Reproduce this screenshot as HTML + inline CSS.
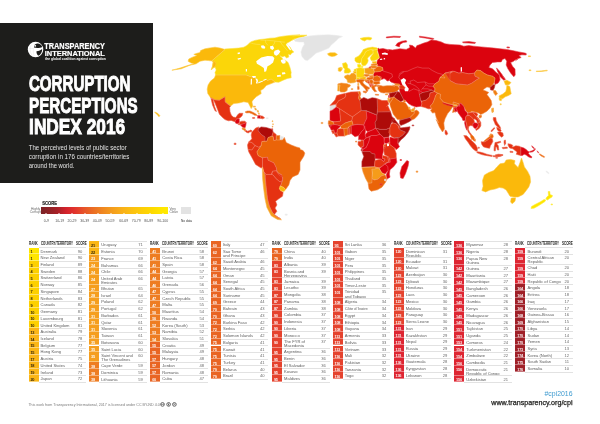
<!DOCTYPE html>
<html><head><meta charset="utf-8"><title>Corruption Perceptions Index 2016</title>
<style>
html,body{margin:0;padding:0;background:#fff;}
body{width:600px;height:424px;position:relative;overflow:hidden;font-family:"Liberation Sans",sans-serif;}
.abs{position:absolute;}
#pg{position:absolute;left:0;top:0;width:600px;height:424px;will-change:transform;}
#hdr{position:absolute;left:0;top:22.6px;width:152.8px;height:160.2px;background:#1d1d1b;}
svg{position:absolute;left:0;top:0;overflow:visible;}
.rw{position:absolute;width:57.6px;}
.rw:after{content:"";position:absolute;left:10.0px;right:0;bottom:-0.2px;height:0.4px;background:#e2e2e2;}
.rk{position:absolute;left:0;top:0;width:10.0px;height:100%;box-sizing:border-box;border-bottom:0.3px solid rgba(255,255,255,.4);color:rgba(255,255,255,.92);font-weight:bold;font-size:3.9px;line-height:6.7px;padding-top:1.65px;text-indent:1.9px;letter-spacing:-0.25px;}
.rk.dk{color:#33260f;}
.nm{position:absolute;left:12.1px;top:2.05px;font-size:4.1px;line-height:4.1px;color:#606060;white-space:nowrap;letter-spacing:-0.02px;}
.sc{position:absolute;left:46.2px;width:10.6px;text-align:center;top:2.05px;font-size:4.1px;line-height:4.1px;color:#6a6a6a;}
.ln{position:absolute;width:47.6px;height:0.4px;background:#e2e2e2;}
.th{position:absolute;height:5px;width:60px;font-weight:bold;font-size:4.6px;line-height:5px;color:#1d1d1b;white-space:nowrap;}
.th span{position:absolute;top:0;display:inline-block;transform-origin:left center;}
.thr{left:0;transform:scaleX(.66);}
.thc{left:12.1px;transform:scaleX(.64);}
.ths{left:47px;transform:scaleX(.66);}
.lg{position:absolute;font-size:3.3px;line-height:3.8px;color:#6a6a6a;white-space:nowrap;}
.lgl{position:absolute;top:218.7px;width:20px;margin-left:-10px;text-align:center;font-size:3.5px;line-height:4px;color:#555;white-space:nowrap;}
</style></head>
<body><div id="pg">
<svg width="600" height="424" viewBox="0 0 600 424">
<g stroke-linejoin="round">
<path d="M225.0,49.4 220.0,53.8 215.0,58.1 212.1,60.6 213.1,62.5 212.5,66.2 211.5,69.8 213.1,68.1 215.0,66.9 216.2,70.0 215.0,72.5 215.6,75.0 225.0,75.0 225.0,75.0 246.2,75.0 248.8,76.0 251.9,77.0 254.0,77.0 256.2,78.8 257.8,81.2 257.2,83.5 258.8,82.9 262.5,81.2 266.2,79.4 267.5,80.5 271.2,79.0 273.8,81.1 275.0,82.0 278.8,82.2 283.1,80.2 287.5,78.4 291.2,77.8 290.9,74.4 291.2,72.5 290.0,67.5 288.1,62.5 285.0,60.0 283.8,60.6 281.9,57.8 280.0,56.1 282.1,57.0 284.6,56.1 286.6,57.9 288.8,57.0 288.4,54.1 290.4,54.9 291.6,53.2 293.8,52.0 291.6,49.9 290.0,47.0 287.5,45.4 286.6,43.2 289.1,42.0 291.6,40.4 295.0,38.6 292.5,39.8 297.5,38.1 303.8,36.9 306.9,35.2 301.2,35.2 292.5,36.0 300.0,34.9 296.6,34.9 290.0,35.4 283.4,36.2 278.4,37.0 275.0,37.9 270.0,38.2 265.0,39.0 260.0,39.5 255.0,40.4 250.6,41.9 246.9,45.6 243.8,47.2 238.8,48.1 232.5,48.5 225.0,49.0Z" fill="#fbd609" stroke="#fbd609" stroke-width="0.5"/>
<path d="M256.2,61.2 261.2,57.5 267.5,56.0 272.5,56.2 274.4,58.1 273.1,62.5 270.0,65.0 267.5,66.2 266.2,71.2 264.4,71.9 263.8,68.1 260.0,65.6 256.9,63.8Z" fill="#ffffff"/>
<path d="M260.8,45.8 263.3,45.3 265.4,47.0 264.6,48.7 261.7,48.2Z" fill="#ffffff"/>
<path d="M270.0,46.2 272.9,45.8 274.2,48.2 272.5,49.9 270.4,48.7Z" fill="#ffffff"/>
<path d="M274.6,50.8 278.3,49.5 280.4,51.6 278.8,54.1 276.7,55.8 274.6,54.9 273.8,52.8Z" fill="#ffffff"/>
<path d="M280.8,59.9 283.3,59.3 285.8,60.8 285.4,63.2 282.9,63.7 281.2,62.0Z" fill="#ffffff"/>
<path d="M285.8,44.5 287.1,44.1 289.2,46.6 291.2,49.9 290.0,50.3 287.9,47.4Z" fill="#ffffff"/>
<path d="M237.5,52.8 239.8,52.2 240.0,53.8 237.8,54.2Z" fill="#ffffff"/>
<path d="M237.5,58.5 240.6,57.8 241.0,59.0 238.0,59.8Z" fill="#ffffff"/>
<path d="M245.8,69.0 247.0,69.0 247.0,71.5 245.8,71.5Z" fill="#ffffff"/>
<path d="M200.6,50.6 205.0,48.8 210.0,47.9 215.0,47.2 220.0,48.1 225.0,49.4 220.0,53.8 215.0,58.1 212.1,60.6 213.1,62.5 212.5,66.2 211.2,70.0 212.2,68.1 215.0,66.9 216.0,63.8 215.0,61.9 212.1,61.0 208.8,60.6 205.0,60.2 200.0,61.2 196.2,63.8 190.0,65.2 181.2,68.8 171.9,70.2 180.0,68.1 187.5,65.6 193.8,63.8 191.2,63.1 188.1,61.2 188.8,59.0 192.5,57.2 196.9,55.4 193.8,54.4 196.2,53.5 200.0,52.5Z" fill="#fbb90b" stroke="#fbb90b" stroke-width="0.5"/>
<path d="M225.0,75.0 246.2,75.0 248.8,76.0 251.9,77.0 254.0,77.0 256.2,78.8 257.8,81.2 257.2,83.5 258.8,82.9 262.5,81.2 266.2,79.4 267.5,80.5 271.2,79.0 273.8,81.1 275.0,82.0 271.2,83.6 266.2,85.5 263.8,88.6 260.6,90.5 261.2,93.6 256.2,96.8 253.1,99.9 251.9,101.8 252.8,106.1 251.2,108.6 249.4,104.9 248.1,102.4 243.8,101.8 238.8,103.0 233.8,103.6 230.6,106.1 228.8,104.9 225.0,101.8 225.0,96.8 219.4,100.2 215.0,99.9 210.6,97.8 210.0,96.8 207.8,93.6 207.2,89.2 208.1,84.9 210.6,81.1 214.4,78.0 215.6,75.0 225.0,75.0Z" fill="#fbb90b" stroke="#fbb90b" stroke-width="0.5"/>
<path d="M251.9,76.0 255.6,76.0 256.0,77.5 253.1,77.9Z" fill="#ffffff"/>
<path d="M250.9,78.8 252.0,78.8 251.8,84.4 250.6,84.4Z" fill="#ffffff"/>
<path d="M255.4,78.8 257.2,78.8 258.1,81.0 256.9,83.8 255.9,83.1 256.5,81.0Z" fill="#ffffff"/>
<path d="M258.1,82.2 262.5,80.8 262.9,81.5 258.8,83.1Z" fill="#ffffff"/>
<path d="M263.1,80.0 266.2,78.8 266.6,79.5 263.5,80.8Z" fill="#ffffff"/>
<path d="M276.9,75.2 280.6,74.8 281.0,76.6 277.2,77.1Z" fill="#ffffff"/>
<path d="M281.9,72.5 285.0,72.2 285.5,74.1 282.2,74.5Z" fill="#ffffff"/>
<path d="M154.8,112.0 157.5,113.2 159.8,115.5 159.0,116.8 156.9,114.2 154.8,112.5Z" fill="#fbb90b" stroke="#fbb90b" stroke-width="0.5"/>
<path d="M210.6,97.8 215.0,99.9 219.4,100.2 225.0,96.8 225.0,101.8 228.8,104.9 230.6,106.1 229.6,107.5 230.0,111.7 231.2,115.0 233.3,117.1 235.8,117.5 237.5,115.0 239.2,113.3 242.9,113.3 242.1,115.8 240.4,117.5 238.3,118.8 236.7,118.8 235.8,120.0 235.0,121.7 233.3,121.2 231.2,120.4 228.3,120.8 225.0,119.6 222.5,117.4 219.4,114.2 217.5,109.2 215.0,103.0 213.1,99.2Z" fill="#e53212" stroke="#e53212" stroke-width="0.5"/>
<path d="M211.0,98.4 213.1,99.2 213.4,101.8 214.6,106.8 216.5,111.5 215.0,110.8 212.5,104.9Z" fill="#e53212" stroke="#e53212" stroke-width="0.5"/>
<path d="M235.0,121.7 235.8,120.0 236.7,118.8 238.3,118.8 239.3,119.0 239.3,121.2 239.6,122.1 237.9,123.8 235.8,123.3Z" fill="#db030e" stroke="#db030e" stroke-width="0.5"/>
<path d="M239.6,122.1 241.7,121.2 245.0,121.2 246.2,122.5 244.6,123.3 242.1,124.2 240.4,124.6 239.6,123.5Z" fill="#e53212" stroke="#e53212" stroke-width="0.5"/>
<path d="M237.9,123.8 239.6,123.5 240.4,124.6 238.8,124.8Z" fill="#e53212" stroke="#e53212" stroke-width="0.5"/>
<path d="M240.4,124.8 242.1,124.2 244.6,123.3 246.2,122.7 245.8,125.4 245.0,127.9 242.9,127.5 241.2,125.8Z" fill="#db030e" stroke="#db030e" stroke-width="0.5"/>
<path d="M242.1,127.9 245.0,128.2 245.8,130.0 245.0,131.2 243.8,130.0 242.3,129.2Z" fill="#f07f12" stroke="#f07f12" stroke-width="0.5"/>
<path d="M245.8,130.0 247.1,131.2 249.2,130.8 250.8,130.0 252.1,130.8 251.2,132.1 250.0,131.7 248.3,132.9 246.8,132.5 245.4,131.5Z" fill="#e53212" stroke="#e53212" stroke-width="0.5"/>
<path d="M245.0,112.1 247.1,111.0 250.0,111.0 253.3,112.5 256.2,114.2 257.1,115.4 254.6,115.2 252.1,113.8 249.2,112.7 246.7,112.9Z" fill="#eb6408" stroke="#eb6408" stroke-width="0.5"/>
<path d="M253.3,106.2 255.4,106.2 255.4,107.1 253.3,107.1Z" fill="#f59c1a" stroke="#f59c1a" stroke-width="0.5"/>
<path d="M254.6,108.3 256.0,108.3 256.5,110.0 255.2,110.0Z" fill="#f59c1a" stroke="#f59c1a" stroke-width="0.5"/>
<path d="M257.1,110.4 258.2,110.4 258.7,112.1 257.5,112.1Z" fill="#f59c1a" stroke="#f59c1a" stroke-width="0.5"/>
<path d="M258.3,112.9 259.2,112.9 259.3,114.2 258.5,114.2Z" fill="#f59c1a" stroke="#f59c1a" stroke-width="0.5"/>
<path d="M252.5,117.5 254.6,117.5 254.8,118.3 252.7,118.5Z" fill="#e53212" stroke="#e53212" stroke-width="0.5"/>
<path d="M257.1,115.8 259.6,115.4 260.4,115.8 260.4,118.3 259.6,118.3 257.1,117.9 258.3,117.1Z" fill="#db030e" stroke="#db030e" stroke-width="0.5"/>
<path d="M260.4,115.8 262.9,116.2 264.6,117.9 262.5,118.8 260.4,118.3Z" fill="#e53212" stroke="#e53212" stroke-width="0.5"/>
<path d="M266.2,117.8 268.1,117.8 268.1,118.6 266.2,118.6Z" fill="#e4e4e4" stroke="#e4e4e4" stroke-width="0.5"/>
<path d="M271.7,128.8 272.8,128.8 272.8,129.7 271.7,129.7Z" fill="#e53212" stroke="#e53212" stroke-width="0.5"/>
<path d="M272.2,120.8 272.9,120.8 272.9,121.7 272.2,121.7Z" fill="#f59c1a" stroke="#f59c1a" stroke-width="0.5"/>
<path d="M272.7,123.8 273.3,123.8 273.3,124.7 272.7,124.7Z" fill="#f59c1a" stroke="#f59c1a" stroke-width="0.5"/>
<path d="M272.2,126.3 272.9,126.3 272.9,127.1 272.2,127.1Z" fill="#f07f12" stroke="#f07f12" stroke-width="0.5"/>
<path d="M294.4,40.0 298.8,38.1 307.5,36.2 317.5,35.2 328.8,34.8 337.5,35.6 342.5,36.5 338.8,38.1 335.6,41.2 331.2,45.0 328.8,48.1 321.2,51.2 316.2,53.1 311.2,57.5 307.5,60.6 305.0,60.0 301.9,56.2 301.0,51.9 302.5,47.5 304.4,44.4 303.8,41.9 298.8,41.9 295.0,41.2Z" fill="#e4e4e4" stroke="#e4e4e4" stroke-width="0.5"/>
<path d="M251.9,132.2 255.6,128.1 258.8,126.9 258.1,130.6 261.2,134.4 265.0,136.9 265.0,141.2 261.9,141.5 261.2,145.6 258.8,147.2 255.0,145.6 251.9,142.5 248.8,141.9 251.9,138.8 251.2,135.0Z" fill="#e53212" stroke="#e53212" stroke-width="0.5"/>
<path d="M258.1,128.8 261.2,126.9 266.2,127.5 272.5,129.4 273.1,132.5 271.9,136.2 268.1,137.5 266.9,141.2 265.0,141.2 265.0,136.9 261.2,134.4 258.1,130.6Z" fill="#ae0b09" stroke="#ae0b09" stroke-width="0.5"/>
<path d="M273.1,131.9 276.2,134.4 276.2,140.0 273.8,140.6 273.1,136.5 271.9,136.2Z" fill="#e53212" stroke="#e53212" stroke-width="0.5"/>
<path d="M276.2,135.6 280.0,135.6 280.0,140.0 276.2,140.0Z" fill="#eb6408" stroke="#eb6408" stroke-width="0.5"/>
<path d="M280.2,136.0 283.5,136.9 282.5,140.0 280.2,140.0Z" fill="#e4e4e4" stroke="#e4e4e4" stroke-width="0.5"/>
<path d="M248.8,141.9 251.9,142.5 255.0,145.6 251.9,150.0 248.1,149.4 247.5,145.0Z" fill="#e53212" stroke="#e53212" stroke-width="0.5"/>
<path d="M248.1,149.4 251.9,150.0 255.0,145.6 258.8,147.2 261.2,145.6 256.9,151.9 258.1,155.6 262.5,157.8 262.5,166.9 261.2,168.1 255.6,164.4 251.9,157.5 248.8,151.9Z" fill="#e53212" stroke="#e53212" stroke-width="0.5"/>
<path d="M266.9,141.2 268.1,137.5 271.9,136.2 273.1,136.5 273.8,140.6 276.2,140.0 280.0,140.0 282.5,140.0 284.4,137.5 286.2,142.5 291.2,145.0 296.2,146.9 300.0,148.1 300.0,149.4 303.1,150.6 304.8,153.1 303.8,156.2 300.6,161.2 300.0,162.5 300.0,170.0 298.1,174.4 292.5,176.9 290.0,180.6 288.8,185.0 285.6,189.4 283.8,187.5 280.6,186.0 282.5,180.6 282.8,177.5 278.8,175.0 276.2,171.2 281.9,175.0 278.1,173.1 276.9,170.6 276.2,167.5 273.8,162.8 268.1,160.2 267.5,157.1 262.5,157.8 258.1,155.6 256.9,151.9 261.2,145.6 261.9,141.5Z" fill="#eb6408" stroke="#eb6408" stroke-width="0.5"/>
<path d="M262.5,157.8 267.5,157.1 268.1,160.2 273.8,162.8 276.2,167.5 276.9,170.6 272.5,171.2 271.2,174.4 266.2,174.4 263.8,171.9 262.5,166.9Z" fill="#e53212" stroke="#e53212" stroke-width="0.5"/>
<path d="M272.5,171.2 276.9,170.6 278.1,173.1 281.9,175.0 282.5,177.5 282.5,180.6 280.0,181.9 276.2,178.8 273.1,175.0 271.9,174.4Z" fill="#e53212" stroke="#e53212" stroke-width="0.5"/>
<path d="M262.5,166.9 263.8,171.9 265.2,175.0 265.2,177.5 266.2,187.5 267.5,198.8 269.4,206.2 272.5,212.5 276.2,216.2 280.0,218.5 281.5,219.8 277.5,219.5 271.2,215.8 266.9,207.5 265.0,198.8 263.5,187.5 262.5,177.5 262.4,170.0Z" fill="#f59c1a" stroke="#f59c1a" stroke-width="0.5"/>
<path d="M266.2,174.4 271.2,174.4 271.9,174.4 273.1,175.0 276.2,178.8 280.0,181.9 282.5,180.6 280.6,185.6 279.4,188.8 283.1,192.5 282.5,196.2 278.8,198.8 275.6,201.2 276.9,205.0 275.0,208.1 276.9,211.2 274.4,214.4 277.5,216.9 280.6,218.8 276.2,216.5 272.5,212.5 269.4,206.2 267.5,198.8 266.2,187.5 265.2,177.5 265.2,175.0 263.8,171.9Z" fill="#e53212" stroke="#e53212" stroke-width="0.5"/>
<path d="M280.0,186.0 283.8,187.5 285.6,189.8 283.8,191.5 280.6,190.8 279.4,188.8Z" fill="#fbb90b" stroke="#fbb90b" stroke-width="0.5"/>
<path d="M285.2,214.2 287.2,214.2 287.2,215.2 285.2,215.2Z" fill="#e4e4e4" stroke="#e4e4e4" stroke-width="0.5"/>
<path d="M234.2,143.2 236.0,143.2 236.0,144.5 234.2,144.5Z" fill="#e53212" stroke="#e53212" stroke-width="0.5"/>
<path d="M378.0,48.0 379.5,49.0 383.0,48.5 389.0,50.0 387.5,51.2 388.8,49.4 392.5,50.0 395.6,49.4 400.0,48.8 406.2,49.4 410.0,47.5 409.4,45.0 412.5,45.6 415.6,48.1 416.9,45.6 418.8,45.0 423.8,43.1 427.5,41.9 431.2,40.0 436.2,40.6 441.2,41.9 445.0,43.8 450.0,44.4 455.0,44.8 460.0,45.0 463.8,46.2 468.8,45.6 473.8,46.2 481.2,46.9 487.5,47.5 493.8,48.1 500.0,48.8 506.2,49.4 512.5,50.6 518.8,51.9 525.0,53.1 526.2,53.5 526.2,55.0 521.9,54.8 518.8,55.6 521.2,57.5 517.5,58.8 515.6,60.6 518.1,58.8 515.0,60.0 513.1,61.5 510.6,62.5 512.5,66.2 515.0,69.0 515.2,75.0 513.8,76.8 510.8,73.2 507.9,68.8 506.2,65.0 506.8,61.2 505.0,58.5 502.5,59.4 501.2,61.9 497.5,61.9 492.5,62.5 490.0,65.0 488.8,67.5 492.5,68.8 496.2,72.5 499.4,75.0 500.0,80.0 498.1,83.1 495.0,84.4 494.4,81.9 495.0,78.1 492.5,76.2 487.5,75.0 483.8,73.1 480.6,70.6 476.9,70.0 474.4,73.1 468.8,73.8 462.5,72.5 458.8,73.1 453.8,71.2 450.0,73.1 452.5,71.2 445.0,73.1 440.0,77.5 438.8,81.2 435.0,83.8 433.1,86.2 435.0,88.8 434.4,91.5 431.9,90.0 427.5,91.5 422.5,92.5 419.4,94.4 420.6,100.0 421.9,103.8 421.2,106.2 416.2,106.9 411.9,105.6 408.8,103.8 405.0,100.0 403.8,100.0 401.9,96.2 400.0,92.5 399.4,88.8 400.0,85.6 394.4,83.5 395.0,83.5 391.0,82.0 389.5,80.5 387.0,81.0 386.0,79.5 384.0,78.5 381.5,79.5 379.5,76.0 377.0,76.0 373.5,77.0 373.5,74.5 374.5,72.0 380.0,71.5 383.0,70.0 382.5,67.5 379.0,66.2 377.5,65.5 376.5,63.5 377.0,62.0 377.5,60.0 379.5,58.0 379.0,55.0 378.0,51.5 377.0,49.5Z" fill="#db030e" stroke="#db030e" stroke-width="0.5"/>
<path d="M496.5,67.9 499.2,70.8 502.0,74.4 504.0,78.0 503.0,76.2 505.5,79.4 503.8,80.2 500.4,77.1 498.0,73.1 499.5,74.8 497.5,71.5Z" fill="#db030e" stroke="#db030e" stroke-width="0.5"/>
<path d="M395.6,45.6 397.5,43.1 401.9,41.2 406.2,40.6 406.9,41.9 403.1,42.5 400.0,44.4 399.4,46.9Z" fill="#db030e" stroke="#db030e" stroke-width="0.5"/>
<path d="M386.2,37.0 393.8,36.2 400.6,36.5 400.0,37.5 393.8,37.2 386.5,37.9Z" fill="#db030e" stroke="#db030e" stroke-width="0.5"/>
<path d="M419.4,36.2 425.0,36.9 433.8,38.5 433.1,39.5 425.0,38.0 419.5,37.2Z" fill="#db030e" stroke="#db030e" stroke-width="0.5"/>
<path d="M462.5,41.9 468.8,41.5 475.6,42.5 475.0,43.5 468.8,43.1 463.1,42.8Z" fill="#db030e" stroke="#db030e" stroke-width="0.5"/>
<path d="M506.9,46.9 509.4,47.0 509.4,47.9 506.9,47.8Z" fill="#db030e" stroke="#db030e" stroke-width="0.5"/>
<path d="M381.8,53.2 385.0,52.6 388.0,53.6 387.5,55.0 384.5,54.6 382.0,54.4Z" fill="#ffffff"/>
<path d="M379.8,59.0 382.0,58.6 382.4,59.7 380.2,60.1Z" fill="#ffffff"/>
<path d="M383.6,58.2 385.0,58.0 385.2,59.2 383.8,59.4Z" fill="#ffffff"/>
<path d="M400.6,80.0 403.8,78.1 406.2,80.0 405.0,83.1 406.9,86.2 408.8,88.8 408.1,91.2 405.0,91.2 403.8,87.5 401.9,83.8Z" fill="#ffffff"/>
<path d="M460.6,67.5 461.9,66.9 462.0,71.2 460.8,71.9Z" fill="#ffffff"/>
<path d="M398.8,85.6 403.1,85.6 405.0,87.5 404.4,89.0 400.6,88.8Z" fill="#e53212" stroke="#e53212" stroke-width="0.5"/>
<path d="M379.5,76.0 381.5,77.0 381.5,79.5 380.0,78.0Z" fill="#e53212" stroke="#e53212" stroke-width="0.5"/>
<path d="M327.5,53.8 330.0,52.8 335.0,52.8 337.5,54.4 335.0,56.0 331.9,56.5 328.8,55.6Z" fill="#fbb90b" stroke="#fbb90b" stroke-width="0.5"/>
<path d="M360.0,38.5 364.0,37.5 369.0,37.2 372.0,38.0 370.5,40.0 367.0,39.5 364.5,41.0 362.0,40.0Z" fill="#fbd609" stroke="#fbd609" stroke-width="0.5"/>
<path d="M355.0,57.9 358.3,56.2 360.4,54.2 362.1,51.7 363.3,49.6 367.5,47.9 372.5,47.1 377.1,47.9 377.5,49.2 374.2,50.0 370.8,49.6 367.9,50.4 365.4,52.1 364.6,54.6 362.9,56.7 361.7,58.8 361.2,62.1 359.6,63.3 356.7,62.5 355.0,60.8Z" fill="#fbd609" stroke="#fbd609" stroke-width="0.5"/>
<path d="M365.4,52.1 367.9,50.4 370.8,49.6 372.9,50.4 373.2,53.3 371.0,54.8 369.0,56.5 367.5,58.2 368.2,60.8 367.3,63.3 365.2,65.4 362.9,65.8 361.7,64.2 361.2,62.1 361.7,58.8 362.9,56.7 364.6,54.6Z" fill="#fbd609" stroke="#fbd609" stroke-width="0.5"/>
<path d="M372.9,50.4 374.2,50.0 377.5,49.2 377.1,51.7 378.3,54.6 379.2,57.5 377.1,59.6 373.8,60.8 371.2,60.4 370.2,57.9 371.5,55.8 373.2,53.8Z" fill="#fbd609" stroke="#fbd609" stroke-width="0.5"/>
<path d="M357.5,64.6 360.0,64.2 361.2,65.8 360.0,67.9 357.9,67.1Z" fill="#ffe600" stroke="#ffe600" stroke-width="0.5"/>
<path d="M361.3,66.2 362.7,66.0 362.7,67.5 361.5,67.7Z" fill="#ffe600" stroke="#ffe600" stroke-width="0.5"/>
<path d="M372.1,61.8 376.2,61.5 376.7,63.2 372.9,63.5Z" fill="#fbb90b" stroke="#fbb90b" stroke-width="0.5"/>
<path d="M371.2,64.2 376.7,63.5 377.9,65.0 374.6,65.7 371.7,65.7Z" fill="#f07f12" stroke="#f07f12" stroke-width="0.5"/>
<path d="M370.4,66.0 374.6,65.7 377.1,66.5 375.8,68.3 372.5,68.2 370.7,67.3Z" fill="#f07f12" stroke="#f07f12" stroke-width="0.5"/>
<path d="M375.5,67.5 379.0,66.2 382.5,67.5 383.0,70.0 380.0,71.5 374.5,72.0 373.5,69.2 375.5,69.0Z" fill="#eb6408" stroke="#eb6408" stroke-width="0.5"/>
<path d="M364.6,68.5 370.0,67.7 373.3,68.9 374.2,71.8 373.3,74.2 368.8,74.2 365.0,73.1Z" fill="#f59c1a" stroke="#f59c1a" stroke-width="0.5"/>
<path d="M369.0,67.0 370.8,67.0 370.8,67.8 369.2,67.8Z" fill="#db030e" stroke="#db030e" stroke-width="0.5"/>
<path d="M342.5,63.5 346.0,62.5 347.5,65.0 347.5,67.7 350.0,69.3 350.8,71.8 348.8,73.1 344.6,73.1 344.2,71.0 345.0,68.9 343.3,67.7Z" fill="#fbd609" stroke="#fbd609" stroke-width="0.5"/>
<path d="M340.5,68.0 342.2,67.6 342.4,69.0 340.8,69.2Z" fill="#fbd609" stroke="#fbd609" stroke-width="0.5"/>
<path d="M338.3,68.1 341.2,67.2 342.1,69.8 340.4,71.4 338.3,71.0Z" fill="#fbb90b" stroke="#fbb90b" stroke-width="0.5"/>
<path d="M344.6,76.0 347.5,74.8 350.0,75.2 351.2,73.5 353.8,73.1 356.2,75.2 356.5,78.5 355.4,79.8 356.2,81.8 353.8,82.7 350.4,83.1 347.5,82.2 347.1,79.8 344.6,77.7Z" fill="#f59c1a" stroke="#f59c1a" stroke-width="0.5"/>
<path d="M357.7,83.5 358.8,83.3 358.8,85.6 357.8,85.6Z" fill="#f59c1a" stroke="#f59c1a" stroke-width="0.5"/>
<path d="M354.0,69.5 356.5,68.8 356.5,71.2 354.3,71.5Z" fill="#fbd609" stroke="#fbd609" stroke-width="0.5"/>
<path d="M353.3,71.5 356.5,71.2 356.5,73.2 354.2,73.5Z" fill="#fbb90b" stroke="#fbb90b" stroke-width="0.5"/>
<path d="M356.5,68.5 360.0,67.7 363.8,68.5 364.6,71.8 363.8,73.9 364.6,76.0 362.9,77.7 359.6,77.7 356.5,76.8 356.5,72.7Z" fill="#fbd609" stroke="#fbd609" stroke-width="0.5"/>
<path d="M356.3,77.2 359.6,77.7 359.6,79.2 356.8,79.5Z" fill="#fbd609" stroke="#fbd609" stroke-width="0.5"/>
<path d="M359.8,77.7 363.8,76.7 366.2,77.5 365.0,79.2 360.4,79.3Z" fill="#fbb90b" stroke="#fbb90b" stroke-width="0.5"/>
<path d="M364.2,74.3 368.8,74.2 369.6,75.6 366.7,76.7 363.8,75.8Z" fill="#f07f12" stroke="#f07f12" stroke-width="0.5"/>
<path d="M369.2,75.8 373.3,75.2 373.5,76.7 370.0,77.2Z" fill="#f07f12" stroke="#f07f12" stroke-width="0.5"/>
<path d="M367.1,77.7 370.0,77.2 373.5,76.8 372.9,78.9 369.2,80.0 366.7,79.2Z" fill="#eb6408" stroke="#eb6408" stroke-width="0.5"/>
<path d="M364.2,79.3 366.7,79.2 366.8,80.3 364.3,80.5Z" fill="#f59c1a" stroke="#f59c1a" stroke-width="0.5"/>
<path d="M364.6,80.3 369.2,80.0 369.3,81.2 367.1,81.2 368.3,83.1 367.1,82.7 365.4,81.4Z" fill="#eb6408" stroke="#eb6408" stroke-width="0.5"/>
<path d="M367.1,81.2 369.3,81.2 369.8,83.1 368.8,83.5 368.3,83.3Z" fill="#e53212" stroke="#e53212" stroke-width="0.5"/>
<path d="M369.3,80.2 372.1,79.8 373.2,81.8 372.3,83.9 370.4,83.7 369.8,81.8Z" fill="#eb6408" stroke="#eb6408" stroke-width="0.5"/>
<path d="M368.8,83.5 370.2,83.5 370.3,84.8 369.2,84.8Z" fill="#eb6408" stroke="#eb6408" stroke-width="0.5"/>
<path d="M369.8,84.8 371.0,84.8 371.2,87.0 370.0,86.8Z" fill="#e53212" stroke="#e53212" stroke-width="0.5"/>
<path d="M370.4,83.7 371.8,83.8 371.7,84.8 370.6,84.8Z" fill="#e53212" stroke="#e53212" stroke-width="0.5"/>
<path d="M371.1,84.8 373.3,84.5 373.3,85.8 371.3,86.0Z" fill="#e53212" stroke="#e53212" stroke-width="0.5"/>
<path d="M373.5,76.7 377.1,75.6 380.0,77.5 380.8,80.0 379.2,81.0 375.0,81.4 372.9,79.8Z" fill="#eb6408" stroke="#eb6408" stroke-width="0.5"/>
<path d="M373.3,81.8 379.2,81.2 380.0,83.5 376.2,84.5 373.5,83.7Z" fill="#eb6408" stroke="#eb6408" stroke-width="0.5"/>
<path d="M371.4,86.0 373.3,85.8 376.2,84.8 377.1,86.0 374.6,86.7 375.0,89.3 376.7,91.4 374.6,91.8 372.5,89.3 371.4,87.2Z" fill="#eb6408" stroke="#eb6408" stroke-width="0.5"/>
<path d="M375.3,94.3 378.6,94.5 378.6,95.2 375.4,95.1Z" fill="#eb6408" stroke="#eb6408" stroke-width="0.5"/>
<path d="M378.0,86.5 380.5,85.5 383.0,86.2 387.0,85.7 391.0,85.7 395.0,86.2 392.5,85.2 395.6,85.6 398.1,86.2 399.4,88.8 396.9,91.2 393.1,92.5 389.4,93.1 385.0,92.5 392.0,92.5 389.5,93.0 387.0,92.5 384.0,93.0 381.0,92.5 379.0,91.0 378.0,89.0Z" fill="#eb6408" stroke="#eb6408" stroke-width="0.5"/>
<path d="M376.8,85.4 379.5,85.2 379.7,86.4 377.2,86.6Z" fill="#eb6408" stroke="#eb6408" stroke-width="0.5"/>
<path d="M394.4,83.5 399.4,84.0 400.0,85.6 395.6,85.6Z" fill="#f07f12" stroke="#f07f12" stroke-width="0.5"/>
<path d="M385.3,94.0 387.7,93.8 387.7,94.8 385.5,94.9Z" fill="#f07f12" stroke="#f07f12" stroke-width="0.5"/>
<path d="M356.5,79.8 360.0,79.3 364.2,79.5 364.0,81.0 362.5,81.7 363.8,83.9 367.1,86.4 369.6,87.8 369.0,89.3 367.5,88.7 367.9,91.0 366.5,91.4 365.4,89.2 363.3,86.8 361.0,84.8 359.6,82.2 357.5,82.2 356.5,81.2Z" fill="#eb6408" stroke="#eb6408" stroke-width="0.5"/>
<path d="M363.3,91.0 367.1,91.4 366.0,93.1 363.3,92.2Z" fill="#eb6408" stroke="#eb6408" stroke-width="0.5"/>
<path d="M357.5,86.4 359.0,86.2 359.2,89.3 357.7,89.5Z" fill="#eb6408" stroke="#eb6408" stroke-width="0.5"/>
<path d="M337.9,83.9 341.2,83.1 347.1,83.7 350.4,85.0 350.0,86.4 347.5,87.8 347.1,90.6 344.6,92.0 340.8,92.0 339.6,91.0 339.6,87.2 340.0,85.0 337.9,85.0Z" fill="#f07f12" stroke="#f07f12" stroke-width="0.5"/>
<path d="M337.9,85.0 340.0,85.0 339.6,87.2 339.6,91.0 337.7,91.0Z" fill="#f59c1a" stroke="#f59c1a" stroke-width="0.5"/>
<path d="M351.2,88.7 352.9,88.7 352.9,89.4 351.2,89.4Z" fill="#f07f12" stroke="#f07f12" stroke-width="0.5"/>
<path d="M330.0,105.5 332.5,104.9 336.2,104.2 336.2,107.0 332.5,109.9 330.0,111.1Z" fill="#e4e4e4" stroke="#e4e4e4" stroke-width="0.5"/>
<path d="M377.1,99.3 376.2,98.3 382.0,100.5 387.0,100.5 388.0,101.0 387.5,100.6 388.8,103.8 386.5,106.9 388.1,104.4 387.8,105.5 390.5,111.8 377.5,112.0 377.5,108.0Z" fill="#e53212" stroke="#e53212" stroke-width="0.5"/>
<path d="M330.0,111.1 332.5,109.9 336.2,107.0 336.2,106.8 339.4,108.6 340.0,114.2 340.6,121.1 335.0,121.8 330.0,120.5Z" fill="#db030e" stroke="#db030e" stroke-width="0.5"/>
<path d="M339.4,108.6 350.0,115.5 352.5,116.8 351.9,120.5 345.0,123.0 342.5,124.9 340.6,126.1 337.5,124.9 333.8,124.2 333.1,122.4 335.0,121.8 340.6,121.1 340.0,114.2Z" fill="#e53212" stroke="#e53212" stroke-width="0.5"/>
<path d="M352.5,116.8 361.2,110.5 366.2,110.9 366.9,118.0 365.0,121.8 363.8,124.9 357.5,124.2 353.1,124.9 351.9,120.5Z" fill="#e53212" stroke="#e53212" stroke-width="0.5"/>
<path d="M366.2,110.9 376.9,115.2 376.9,119.2 375.0,122.4 375.6,128.0 372.5,129.9 367.5,131.8 365.0,129.2 363.8,124.9 365.0,121.8 366.9,118.0Z" fill="#db030e" stroke="#db030e" stroke-width="0.5"/>
<path d="M377.5,112.0 390.5,111.8 392.0,116.8 394.8,118.9 391.9,122.4 391.2,123.0 390.0,127.8 386.2,129.2 380.0,129.2 375.6,128.0 375.0,122.4 376.9,119.2 376.9,115.2Z" fill="#ae0b09" stroke="#ae0b09" stroke-width="0.5"/>
<path d="M375.6,128.2 380.0,129.5 386.2,129.5 390.0,128.0 390.0,133.6 388.8,137.0 383.8,137.6 380.0,134.2Z" fill="#ae0b09" stroke="#ae0b09" stroke-width="0.5"/>
<path d="M390.0,137.0 393.8,138.2 398.1,137.6 397.8,143.2 399.5,146.8 396.5,149.5 389.8,144.5Z" fill="#db030e" stroke="#db030e" stroke-width="0.5"/>
<path d="M384.4,138.0 388.8,137.2 389.8,141.8 386.5,143.8 384.0,142.5Z" fill="#db030e" stroke="#db030e" stroke-width="0.5"/>
<path d="M328.5,120.8 330.0,120.8 333.5,122.4 334.0,124.9 330.0,125.0 328.2,124.2Z" fill="#eb6408" stroke="#eb6408" stroke-width="0.5"/>
<path d="M328.8,125.2 331.0,125.0 331.2,126.8 329.5,127.0Z" fill="#ae0b09" stroke="#ae0b09" stroke-width="0.5"/>
<path d="M329.8,127.0 331.2,125.0 333.8,124.5 337.5,125.0 340.6,126.2 337.5,129.2 336.9,133.0 334.4,133.0 333.8,129.9 331.2,130.1Z" fill="#db030e" stroke="#db030e" stroke-width="0.5"/>
<path d="M331.5,130.8 333.8,129.9 334.4,133.0 332.8,133.8Z" fill="#e53212" stroke="#e53212" stroke-width="0.5"/>
<path d="M333.8,133.2 336.9,133.0 338.1,136.1 336.2,137.0Z" fill="#e53212" stroke="#e53212" stroke-width="0.5"/>
<path d="M337.5,129.2 341.2,128.6 343.8,128.6 344.4,136.1 338.1,136.1 336.9,133.0Z" fill="#e53212" stroke="#e53212" stroke-width="0.5"/>
<path d="M343.8,128.6 347.8,128.0 348.1,134.5 344.4,136.1Z" fill="#eb6408" stroke="#eb6408" stroke-width="0.5"/>
<path d="M347.8,128.0 349.0,128.0 349.4,134.2 348.1,134.5Z" fill="#e53212" stroke="#e53212" stroke-width="0.5"/>
<path d="M349.0,126.5 351.2,125.8 351.2,133.6 349.4,134.2Z" fill="#e53212" stroke="#e53212" stroke-width="0.5"/>
<path d="M340.6,126.1 345.0,123.0 351.9,121.1 353.1,124.9 349.0,126.5 347.8,128.0 343.8,128.6 341.2,128.6Z" fill="#eb6408" stroke="#eb6408" stroke-width="0.5"/>
<path d="M351.2,125.5 357.5,124.5 363.8,125.1 364.4,129.2 361.9,131.1 358.8,135.5 355.0,136.8 351.2,133.6Z" fill="#db030e" stroke="#db030e" stroke-width="0.5"/>
<path d="M361.9,131.1 363.8,129.2 364.8,125.8 365.6,129.9 365.0,134.9 366.2,138.0 363.8,139.9 358.5,139.9 358.8,135.5Z" fill="#db030e" stroke="#db030e" stroke-width="0.5"/>
<path d="M367.5,132.0 372.5,129.9 375.6,128.2 380.0,134.2 376.2,135.5 371.2,135.5 366.2,138.0 365.0,134.9Z" fill="#db030e" stroke="#db030e" stroke-width="0.5"/>
<path d="M358.5,140.0 360.8,140.0 360.8,141.2 358.5,141.2Z" fill="#e4e4e4" stroke="#e4e4e4" stroke-width="0.5"/>
<path d="M358.1,141.4 360.8,141.2 361.0,140.2 363.5,140.2 363.8,146.1 360.6,147.4 358.1,144.9Z" fill="#e53212" stroke="#e53212" stroke-width="0.5"/>
<path d="M363.8,139.9 366.2,138.0 370.0,136.8 368.8,141.8 366.2,147.4 363.1,149.2 361.2,148.0 363.8,146.1Z" fill="#db030e" stroke="#db030e" stroke-width="0.5"/>
<path d="M370.0,136.8 371.2,135.5 376.2,135.5 380.0,134.2 383.8,137.6 384.4,142.4 383.5,147.4 383.8,149.8 382.5,154.8 382.5,158.5 385.0,159.1 383.8,161.6 380.6,159.1 375.0,158.5 375.0,154.1 371.9,153.5 370.0,151.6 363.8,151.6 362.2,151.0 363.1,149.2 366.2,147.4 368.8,141.8Z" fill="#db030e" stroke="#db030e" stroke-width="0.5"/>
<path d="M383.5,144.8 385.4,144.8 385.4,146.5 383.5,146.5Z" fill="#f07f12" stroke="#f07f12" stroke-width="0.5"/>
<path d="M383.5,146.6 385.4,146.6 385.2,148.2 383.8,148.2Z" fill="#db030e" stroke="#db030e" stroke-width="0.5"/>
<path d="M385.6,144.2 389.8,142.0 389.8,144.5 396.5,149.5 394.4,148.5 396.2,153.5 396.2,157.9 390.0,159.1 387.5,156.2 384.4,154.8 383.8,149.8 383.5,147.4 384.4,144.9Z" fill="#e53212" stroke="#e53212" stroke-width="0.5"/>
<path d="M361.9,151.6 370.0,151.6 371.9,153.5 375.0,154.1 375.0,160.4 374.4,166.6 361.9,167.0 361.9,161.6 363.8,156.6Z" fill="#ae0b09" stroke="#ae0b09" stroke-width="0.5"/>
<path d="M361.0,149.5 362.5,149.2 362.5,150.8 361.2,150.8Z" fill="#ae0b09" stroke="#ae0b09" stroke-width="0.5"/>
<path d="M375.0,160.4 380.6,159.1 383.8,161.6 385.0,159.1 382.5,158.5 382.5,155.4 387.5,156.6 388.8,161.6 385.0,163.5 382.5,166.0 378.8,167.9 374.4,166.6Z" fill="#e53212" stroke="#e53212" stroke-width="0.5"/>
<path d="M387.5,156.2 389.0,156.6 390.2,162.2 388.8,162.2Z" fill="#e53212" stroke="#e53212" stroke-width="0.5"/>
<path d="M390.0,159.1 396.2,157.9 396.9,162.2 393.8,166.6 390.0,169.8 389.4,174.1 390.0,177.2 386.9,179.1 386.2,174.8 388.1,170.4 387.5,166.6 385.0,164.1 388.8,162.2 390.2,162.2Z" fill="#db030e" stroke="#db030e" stroke-width="0.5"/>
<path d="M379.4,168.5 382.5,166.0 385.0,164.1 388.1,166.6 388.1,170.4 385.0,174.1 381.9,172.9Z" fill="#db030e" stroke="#db030e" stroke-width="0.5"/>
<path d="M371.9,169.1 374.4,169.1 378.8,167.9 381.9,172.9 385.0,174.5 381.2,176.0 378.1,179.1 374.4,179.8 371.9,178.5 372.5,173.5Z" fill="#f59c1a" stroke="#f59c1a" stroke-width="0.5"/>
<path d="M361.9,167.5 374.4,167.0 378.8,167.9 374.4,169.1 371.9,169.1 372.2,173.5 371.9,182.9 368.1,182.9 365.6,178.5 363.1,172.2Z" fill="#f07f12" stroke="#f07f12" stroke-width="0.5"/>
<path d="M368.1,183.2 371.9,182.9 371.9,178.8 374.4,180.0 378.1,179.1 381.2,176.0 385.0,174.8 386.9,179.1 385.6,182.2 381.9,187.2 377.5,189.8 371.2,191.2 369.0,189.1Z" fill="#eb6408" stroke="#eb6408" stroke-width="0.5"/>
<path d="M379.6,183.5 382.2,183.2 382.2,185.2 379.8,185.4Z" fill="#e53212" stroke="#e53212" stroke-width="0.5"/>
<path d="M384.5,179.2 386.0,179.2 386.0,180.8 384.5,180.8Z" fill="#e4e4e4" stroke="#e4e4e4" stroke-width="0.5"/>
<path d="M400.0,172.9 401.9,166.6 406.9,160.4 408.8,161.6 408.1,166.0 405.6,173.5 403.1,178.5 400.6,177.9Z" fill="#db030e" stroke="#db030e" stroke-width="0.5"/>
<path d="M400.0,159.5 401.5,159.5 401.5,160.5 400.0,160.5Z" fill="#db030e" stroke="#db030e" stroke-width="0.5"/>
<path d="M416.2,171.0 417.8,171.0 417.8,172.2 416.2,172.2Z" fill="#f07f12" stroke="#f07f12" stroke-width="0.5"/>
<path d="M386.9,143.6 389.0,143.4 389.0,146.1 387.0,146.2Z" fill="#ffffff"/>
<path d="M321.2,122.4 322.8,122.4 322.8,123.6 321.2,123.6Z" fill="#f07f12" stroke="#f07f12" stroke-width="0.5"/>
<path d="M355.6,141.1 356.6,141.1 356.6,142.1 355.6,142.1Z" fill="#eb6408" stroke="#eb6408" stroke-width="0.5"/>
<path d="M392.1,119.2 394.2,118.8 397.5,122.9 399.6,125.8 398.3,126.0 396.2,123.8 393.3,122.9 391.7,121.7Z" fill="#ae0b09" stroke="#ae0b09" stroke-width="0.5"/>
<path d="M398.5,126.0 400.0,125.8 400.2,127.9 398.8,128.2Z" fill="#e53212" stroke="#e53212" stroke-width="0.5"/>
<path d="M391.2,124.2 393.3,122.9 396.2,123.8 398.3,126.0 398.8,128.2 400.4,130.0 405.4,132.1 402.9,135.0 399.2,137.5 394.2,137.9 391.2,136.2 388.8,132.5 389.6,128.3Z" fill="#e53212" stroke="#e53212" stroke-width="0.5"/>
<path d="M400.2,128.0 404.2,127.5 410.0,126.8 409.6,129.2 407.9,132.5 404.6,136.7 400.8,140.0 398.1,143.6 398.1,137.8 394.2,137.9 399.2,137.5 402.9,135.0 405.4,132.1 400.4,130.0 398.8,128.2Z" fill="#ae0b09" stroke="#ae0b09" stroke-width="0.5"/>
<path d="M412.1,125.0 413.8,125.0 413.8,125.8 412.1,125.8Z" fill="#ae0b09" stroke="#ae0b09" stroke-width="0.5"/>
<path d="M336.7,95.6 341.2,94.3 345.0,93.5 345.8,95.2 345.0,97.5 340.8,99.8 338.8,100.6 336.2,104.2 332.5,104.9 330.0,105.5 335.0,100.0Z" fill="#e53212" stroke="#e53212" stroke-width="0.5"/>
<path d="M345.0,93.5 350.8,92.0 357.9,91.8 359.2,94.8 358.5,98.1 360.0,101.0 361.2,110.5 352.5,116.8 350.0,115.5 339.4,108.6 336.2,106.8 336.2,104.2 338.8,100.6 340.8,99.8 345.0,97.5 345.8,95.2Z" fill="#e53212" stroke="#e53212" stroke-width="0.5"/>
<path d="M357.9,91.8 360.0,91.4 360.8,93.9 360.0,96.4 361.2,98.9 359.6,100.2 358.5,98.1 359.2,94.8Z" fill="#eb6408" stroke="#eb6408" stroke-width="0.5"/>
<path d="M360.0,101.0 359.6,100.2 361.2,98.9 363.8,97.5 367.9,99.2 372.1,97.7 376.2,98.3 377.1,99.3 377.5,108.0 376.9,114.9 366.2,110.5 361.2,110.5Z" fill="#ae0b09" stroke="#ae0b09" stroke-width="0.5"/>
<path d="M389.4,93.1 393.1,92.5 397.5,91.5 393.8,96.9 390.6,98.1 389.4,95.6Z" fill="#ae0b09" stroke="#ae0b09" stroke-width="0.5"/>
<path d="M388.5,95.6 389.5,95.6 389.5,97.8 388.5,97.8Z" fill="#db030e" stroke="#db030e" stroke-width="0.5"/>
<path d="M387.8,98.1 389.1,97.9 389.0,102.5 388.0,101.2Z" fill="#f59c1a" stroke="#f59c1a" stroke-width="0.5"/>
<path d="M389.1,99.4 390.6,98.1 393.8,96.9 391.9,100.0 390.0,102.8 389.0,102.2Z" fill="#eb6408" stroke="#eb6408" stroke-width="0.5"/>
<path d="M393.8,96.9 397.5,91.5 400.0,92.5 401.9,96.2 403.8,100.0 400.6,101.9 396.9,99.4Z" fill="#ae0b09" stroke="#ae0b09" stroke-width="0.5"/>
<path d="M403.5,100.0 405.2,100.2 405.5,102.0 403.8,102.0Z" fill="#eb6408" stroke="#eb6408" stroke-width="0.5"/>
<path d="M419.4,94.4 422.5,92.5 427.5,91.5 431.9,90.0 434.4,91.5 430.0,93.1 429.4,96.9 426.2,100.0 421.9,101.2 420.6,99.8Z" fill="#ae0b09" stroke="#ae0b09" stroke-width="0.5"/>
<path d="M421.9,103.8 421.9,101.2 426.2,100.0 429.4,96.9 430.0,93.1 434.4,91.5 437.5,93.1 435.6,95.6 434.4,99.4 432.5,103.8 430.0,106.2 431.9,108.8 428.1,108.8 425.0,107.5 421.2,106.5Z" fill="#e53212" stroke="#e53212" stroke-width="0.5"/>
<path d="M435.6,95.6 437.5,93.1 440.6,94.4 440.0,98.1 443.8,102.5 448.8,104.0 453.1,104.6 453.1,101.9 458.8,103.8 460.0,106.2 453.8,105.2 457.5,106.2 455.6,108.1 453.8,106.9 452.5,112.5 456.9,111.2 455.0,111.9 453.8,107.5 452.5,106.9 450.6,110.0 447.5,113.8 445.0,118.8 443.8,123.0 444.4,128.9 442.5,132.0 439.4,127.0 436.2,119.5 438.8,123.0 436.2,117.5 435.0,112.5 432.5,113.1 430.6,110.6 431.9,108.8 430.0,106.2 432.5,103.8 434.4,99.4Z" fill="#eb6408" stroke="#eb6408" stroke-width="0.5"/>
<path d="M443.1,101.9 447.5,103.1 452.5,105.0 452.5,106.5 447.5,105.2 443.1,103.5Z" fill="#db030e" stroke="#db030e" stroke-width="0.5"/>
<path d="M453.5,104.2 456.5,104.5 456.5,105.9 453.5,105.8Z" fill="#f59c1a" stroke="#f59c1a" stroke-width="0.5"/>
<path d="M453.8,107.5 456.5,107.2 457.2,111.2 455.0,112.0Z" fill="#db030e" stroke="#db030e" stroke-width="0.5"/>
<path d="M445.2,130.1 446.5,130.8 447.8,133.9 446.0,135.1 445.0,133.2Z" fill="#e53212" stroke="#e53212" stroke-width="0.5"/>
<path d="M440.0,77.5 442.5,75.6 445.0,73.1 450.0,73.1 450.0,80.6 456.2,83.8 462.5,84.4 467.5,85.0 471.9,83.1 476.2,80.0 479.4,78.1 475.0,76.2 474.4,73.1 476.9,70.0 480.6,70.6 483.8,73.1 487.5,75.0 492.5,76.2 495.0,78.1 494.4,81.9 493.1,84.4 490.0,87.5 486.9,86.9 484.4,88.8 483.1,90.0 486.2,91.2 488.8,92.5 486.9,94.4 488.8,96.9 491.2,100.6 491.9,104.4 490.0,108.1 486.9,111.2 482.5,113.8 480.6,114.4 478.8,113.1 475.0,111.9 471.9,111.2 468.8,113.1 466.2,111.2 463.8,106.2 460.6,103.1 457.5,106.2 453.8,105.2 460.0,106.2 458.8,103.8 453.1,101.9 453.1,104.6 448.8,104.0 443.8,102.5 440.0,98.1 440.6,94.4 437.5,93.1 434.4,91.5 435.0,88.8 433.1,86.2 435.0,83.8 438.8,81.2Z" fill="#eb6408" stroke="#eb6408" stroke-width="0.5"/>
<path d="M479.0,115.6 481.0,115.4 481.0,117.8 479.2,117.8Z" fill="#eb6408" stroke="#eb6408" stroke-width="0.5"/>
<path d="M445.0,73.1 452.5,71.2 450.0,73.1 453.8,71.2 458.8,73.1 462.5,72.5 468.8,73.8 474.4,73.1 475.0,76.2 479.4,78.1 476.2,80.0 471.9,83.1 467.5,85.0 462.5,84.4 456.2,83.8 450.0,80.6Z" fill="#e53212" stroke="#e53212" stroke-width="0.5"/>
<path d="M490.0,87.5 493.1,84.8 495.0,84.8 494.5,87.5 493.2,90.2 490.6,90.0Z" fill="#ae0b09" stroke="#ae0b09" stroke-width="0.5"/>
<path d="M493.2,90.2 495.6,90.6 497.5,93.8 495.6,95.6 493.8,93.1Z" fill="#f07f12" stroke="#f07f12" stroke-width="0.5"/>
<path d="M504.0,81.0 506.9,80.2 511.0,82.5 509.0,84.8 505.5,85.0Z" fill="#fbb90b" stroke="#fbb90b" stroke-width="0.5"/>
<path d="M506.9,85.2 509.8,86.5 510.5,90.6 511.2,93.8 508.5,95.5 505.2,96.8 502.5,98.8 499.8,98.5 499.0,96.0 502.8,94.0 505.8,91.5 506.5,88.5Z" fill="#fbb90b" stroke="#fbb90b" stroke-width="0.5"/>
<path d="M499.1,97.8 501.9,98.2 501.2,100.8 499.4,100.2Z" fill="#fbb90b" stroke="#fbb90b" stroke-width="0.5"/>
<path d="M500.2,103.8 501.2,103.8 501.2,104.8 500.2,104.8Z" fill="#fbb90b" stroke="#fbb90b" stroke-width="0.5"/>
<path d="M491.9,108.8 493.5,108.1 493.5,111.9 492.2,112.5Z" fill="#f59c1a" stroke="#f59c1a" stroke-width="0.5"/>
<path d="M457.5,106.2 460.6,103.1 463.8,106.2 465.0,110.5 467.5,113.0 467.9,115.1 466.2,115.9 465.4,118.0 465.8,121.3 466.7,124.7 467.5,129.7 466.7,130.1 465.4,126.8 464.6,123.0 465.0,120.5 462.9,120.5 462.1,118.0 460.4,115.9 458.3,113.0 457.1,110.5 455.6,108.1Z" fill="#db030e" stroke="#db030e" stroke-width="0.5"/>
<path d="M465.4,118.0 466.2,115.9 469.2,115.5 471.7,117.2 473.8,119.7 474.6,122.6 472.9,123.4 472.9,125.9 470.8,125.5 468.8,126.3 468.3,129.2 469.6,132.2 471.7,134.7 470.4,135.1 468.3,132.2 467.1,128.8 466.7,124.7 465.8,121.3Z" fill="#e53212" stroke="#e53212" stroke-width="0.5"/>
<path d="M467.5,113.0 470.4,112.6 472.9,112.2 474.2,114.2 476.2,116.3 478.8,120.1 479.6,122.6 477.5,123.2 476.7,120.5 474.6,118.8 473.8,119.7 471.7,117.2 469.2,115.5 467.9,115.1Z" fill="#e53212" stroke="#e53212" stroke-width="0.5"/>
<path d="M472.9,112.2 475.8,112.6 477.9,114.2 476.7,116.3 478.8,118.8 480.8,122.6 480.8,125.9 479.2,128.4 476.2,130.5 475.8,129.2 477.9,127.2 478.3,124.7 477.5,123.2 479.6,122.6 478.8,120.1 476.2,116.3 474.2,114.2Z" fill="#e53212" stroke="#e53212" stroke-width="0.5"/>
<path d="M472.9,123.4 474.6,122.8 477.5,123.2 478.3,124.7 477.5,126.8 475.4,128.8 473.8,127.6 472.9,125.9Z" fill="#db030e" stroke="#db030e" stroke-width="0.5"/>
<path d="M479.2,115.5 481.2,115.1 481.5,117.0 479.6,117.8Z" fill="#eb6408" stroke="#eb6408" stroke-width="0.5"/>
<path d="M491.7,108.4 493.2,108.0 493.3,111.3 492.3,112.6 491.7,110.9Z" fill="#f59c1a" stroke="#f59c1a" stroke-width="0.5"/>
<path d="M493.3,117.6 495.8,117.6 496.2,120.5 497.5,123.0 499.6,125.9 500.8,128.4 499.6,128.8 497.5,126.8 495.4,124.7 494.2,121.8 493.3,119.7Z" fill="#e53212" stroke="#e53212" stroke-width="0.5"/>
<path d="M496.7,127.2 500.0,128.8 501.2,130.5 500.4,131.8 498.3,130.9 497.1,129.2Z" fill="#e53212" stroke="#e53212" stroke-width="0.5"/>
<path d="M497.5,132.2 500.4,131.8 502.9,133.0 503.3,135.9 501.7,137.2 499.6,135.5 498.3,133.8Z" fill="#e53212" stroke="#e53212" stroke-width="0.5"/>
<path d="M490.8,130.9 494.2,127.6 494.8,128.2 491.7,131.8Z" fill="#e53212" stroke="#e53212" stroke-width="0.5"/>
<path d="M470.4,135.1 471.7,134.7 473.8,136.8 475.0,140.1 475.0,138.8 475.4,141.2 473.8,140.8 472.1,138.8 472.1,140.1 470.8,137.2Z" fill="#eb6408" stroke="#eb6408" stroke-width="0.5"/>
<path d="M483.8,141.2 486.7,138.8 489.2,136.7 490.8,135.0 490.8,133.8 492.9,134.7 493.3,136.8 492.9,137.5 492.1,138.3 490.0,137.9 488.3,139.6 485.8,141.2 483.8,142.1Z" fill="#eb6408" stroke="#eb6408" stroke-width="0.5"/>
<path d="M489.2,135.5 490.7,134.0 491.7,134.7 490.4,136.3Z" fill="#f07f12" stroke="#f07f12" stroke-width="0.5"/>
<path d="M463.8,135.4 466.7,135.8 469.2,138.3 471.7,140.8 474.2,142.9 476.2,145.4 477.5,148.3 477.1,151.2 475.4,150.8 472.9,148.8 470.4,145.8 467.9,142.1 465.4,138.8Z" fill="#e53212" stroke="#e53212" stroke-width="0.5"/>
<path d="M477.1,151.7 480.0,152.1 483.3,152.9 486.7,154.2 490.0,155.0 492.1,155.4 492.1,156.5 489.2,156.0 485.8,155.4 481.7,154.6 478.3,153.3 476.8,152.5Z" fill="#e53212" stroke="#e53212" stroke-width="0.5"/>
<path d="M492.9,155.7 495.0,155.8 498.3,155.4 501.2,155.0 502.9,154.6 502.9,155.4 500.0,156.2 496.7,156.8 493.3,156.7Z" fill="#e53212" stroke="#e53212" stroke-width="0.5"/>
<path d="M495.0,155.0 498.3,154.2 502.1,154.6 501.7,155.8 498.3,156.7 495.4,156.2Z" fill="#e53212" stroke="#e53212" stroke-width="0.5"/>
<path d="M495.8,157.5 497.5,157.5 497.5,158.2 495.8,158.2Z" fill="#e53212" stroke="#e53212" stroke-width="0.5"/>
<path d="M481.2,141.7 483.8,142.1 485.8,141.2 488.3,139.6 490.0,137.9 492.1,138.3 492.9,141.2 491.7,143.8 490.4,145.8 489.6,148.3 487.5,147.9 485.4,147.5 483.3,146.7 481.7,144.2Z" fill="#e53212" stroke="#e53212" stroke-width="0.5"/>
<path d="M495.0,142.5 497.5,142.1 500.4,141.2 500.8,142.3 497.9,143.3 496.7,143.8 498.3,145.8 498.8,150.0 497.5,150.0 496.7,147.1 495.8,146.7 495.4,150.8 494.0,150.8 494.2,146.7 494.8,144.2Z" fill="#e53212" stroke="#e53212" stroke-width="0.5"/>
<path d="M504.2,140.4 505.4,140.0 505.7,143.3 504.6,145.4 504.0,142.5Z" fill="#e53212" stroke="#e53212" stroke-width="0.5"/>
<path d="M502.1,147.5 507.1,147.1 507.5,148.2 502.9,148.8Z" fill="#e53212" stroke="#e53212" stroke-width="0.5"/>
<path d="M507.9,143.8 510.8,144.2 512.9,145.4 512.1,147.1 512.9,147.1 515.8,145.8 519.2,146.2 520.8,147.1 520.8,155.4 518.8,155.0 516.2,154.2 517.1,152.1 515.0,150.4 512.9,148.8 510.8,148.3 509.6,147.9 508.3,145.8Z" fill="#e53212" stroke="#e53212" stroke-width="0.5"/>
<path d="M510.0,151.2 512.9,151.5 512.9,152.5 510.0,152.3Z" fill="#e53212" stroke="#e53212" stroke-width="0.5"/>
<path d="M478.2,147.2 479.3,147.2 479.3,148.2 478.2,148.2Z" fill="#e53212" stroke="#e53212" stroke-width="0.5"/>
<path d="M520.8,147.1 523.8,147.9 526.2,149.6 527.9,151.2 529.6,152.1 528.3,153.3 530.0,155.4 532.1,157.1 531.2,157.9 528.3,156.7 526.2,155.0 524.2,154.2 522.5,155.4 520.8,155.4Z" fill="#db030e" stroke="#db030e" stroke-width="0.5"/>
<path d="M529.6,151.5 532.1,150.8 534.2,149.6 535.4,148.8 535.0,150.0 532.9,151.7 530.4,152.3Z" fill="#db030e" stroke="#db030e" stroke-width="0.5"/>
<path d="M531.7,145.8 532.9,146.7 534.6,148.3 534.2,148.8 532.5,147.5Z" fill="#db030e" stroke="#db030e" stroke-width="0.5"/>
<path d="M537.1,150.8 538.3,152.1 538.8,152.9 537.7,152.3Z" fill="#db030e" stroke="#db030e" stroke-width="0.5"/>
<path d="M539.6,153.8 541.7,155.0 544.6,156.7 544.2,157.5 541.2,156.0 539.4,154.6Z" fill="#eb6408" stroke="#eb6408" stroke-width="0.5"/>
<path d="M390.0,102.8 391.9,100.0 393.8,96.9 396.9,99.4 400.6,101.9 403.8,102.0 405.6,103.1 408.1,106.9 408.8,107.5 410.8,110.0 411.7,111.7 414.2,111.2 414.2,113.3 412.5,115.0 410.0,117.5 405.0,118.8 400.8,120.0 398.8,119.6 397.5,119.6 393.3,114.2 390.0,105.0Z" fill="#eb6408" stroke="#eb6408" stroke-width="0.5"/>
<path d="M408.7,107.3 410.0,107.3 410.0,109.3 408.8,109.2Z" fill="#f59c1a" stroke="#f59c1a" stroke-width="0.5"/>
<path d="M410.8,110.0 413.3,108.3 414.6,109.2 414.2,111.2 411.7,111.7Z" fill="#f59c1a" stroke="#f59c1a" stroke-width="0.5"/>
<path d="M414.2,111.2 416.2,110.0 418.3,111.2 419.2,112.9 417.5,115.8 414.6,118.8 411.7,120.0 410.0,117.5 412.5,115.0 414.2,113.3Z" fill="#eb6408" stroke="#eb6408" stroke-width="0.5"/>
<path d="M414.2,107.5 415.0,107.5 415.0,108.8 414.2,108.8Z" fill="#eb6408" stroke="#eb6408" stroke-width="0.5"/>
<path d="M399.6,120.4 400.8,120.0 405.0,118.8 410.0,117.5 411.7,120.0 409.2,121.7 405.0,123.8 400.8,125.4 399.6,123.8Z" fill="#ae0b09" stroke="#ae0b09" stroke-width="0.5"/>
<path d="M481.9,190.6 483.1,186.2 482.5,180.6 484.4,175.0 488.8,172.5 493.8,170.6 496.9,166.9 500.0,163.8 504.4,163.1 506.2,160.0 510.6,159.4 515.0,160.6 514.4,163.8 518.1,167.5 520.0,162.5 521.5,158.1 523.1,162.5 524.4,166.9 527.5,171.2 530.0,176.2 530.6,181.9 528.8,186.9 526.2,190.6 523.1,194.4 518.1,196.9 513.8,196.9 510.0,196.2 508.1,193.1 506.2,190.0 503.1,188.1 499.4,187.5 495.0,189.0 490.0,190.0 485.6,191.9Z" fill="#fbb90b" stroke="#fbb90b" stroke-width="0.5"/>
<path d="M511.2,198.1 515.6,197.8 515.0,201.2 512.2,203.8 510.6,201.9Z" fill="#fbb90b" stroke="#fbb90b" stroke-width="0.5"/>
<path d="M548.2,191.5 549.8,191.5 550.0,194.5 552.5,195.5 552.0,197.0 549.5,198.5 547.5,200.0 545.8,199.0 546.8,197.0 548.5,195.5Z" fill="#ffe600" stroke="#ffe600" stroke-width="0.5"/>
<path d="M545.8,200.0 544.0,199.5 540.0,202.0 535.0,204.5 531.5,206.5 531.0,208.5 534.0,208.2 538.0,206.0 542.0,203.5 545.0,201.5Z" fill="#ffe600" stroke="#ffe600" stroke-width="0.5"/>
<path d="M551.0,204.0 552.5,204.0 552.5,204.8 551.0,204.8Z" fill="#ffe600" stroke="#ffe600" stroke-width="0.5"/>
<path d="M545.8,171.5 546.8,171.2 549.2,173.2 548.4,173.6Z" fill="#e4e4e4" stroke="#e4e4e4" stroke-width="0.5"/>
<path d="M528.4,55.9 530.4,55.9 530.4,56.6 528.4,56.6Z" fill="#fbb90b" stroke="#fbb90b" stroke-width="0.5"/>
<path d="M529.0,69.9 531.0,69.9 531.0,70.6 529.0,70.6Z" fill="#fbb90b" stroke="#fbb90b" stroke-width="0.5"/>
<path d="M536.2,71.1 541.2,70.9 547.2,70.2 547.2,70.8 541.2,71.4 536.4,71.6Z" fill="#fbb90b" stroke="#fbb90b" stroke-width="0.5"/>
</g>
<g stroke="#fff" stroke-width="0.2" stroke-opacity="0.6" fill="none" stroke-linejoin="round">
<path d="M225.0,49.4 220.0,53.8 215.0,58.1 212.1,60.6 213.1,62.5 212.5,66.2 211.5,69.8 213.1,68.1 215.0,66.9 216.2,70.0 215.0,72.5 215.6,75.0 225.0,75.0 225.0,75.0 246.2,75.0 248.8,76.0 251.9,77.0 254.0,77.0 256.2,78.8 257.8,81.2 257.2,83.5 258.8,82.9 262.5,81.2 266.2,79.4 267.5,80.5 271.2,79.0 273.8,81.1 275.0,82.0 278.8,82.2 283.1,80.2 287.5,78.4 291.2,77.8 290.9,74.4 291.2,72.5 290.0,67.5 288.1,62.5 285.0,60.0 283.8,60.6 281.9,57.8 280.0,56.1 282.1,57.0 284.6,56.1 286.6,57.9 288.8,57.0 288.4,54.1 290.4,54.9 291.6,53.2 293.8,52.0 291.6,49.9 290.0,47.0 287.5,45.4 286.6,43.2 289.1,42.0 291.6,40.4 295.0,38.6 292.5,39.8 297.5,38.1 303.8,36.9 306.9,35.2 301.2,35.2 292.5,36.0 300.0,34.9 296.6,34.9 290.0,35.4 283.4,36.2 278.4,37.0 275.0,37.9 270.0,38.2 265.0,39.0 260.0,39.5 255.0,40.4 250.6,41.9 246.9,45.6 243.8,47.2 238.8,48.1 232.5,48.5 225.0,49.0Z"/>
<path d="M200.6,50.6 205.0,48.8 210.0,47.9 215.0,47.2 220.0,48.1 225.0,49.4 220.0,53.8 215.0,58.1 212.1,60.6 213.1,62.5 212.5,66.2 211.2,70.0 212.2,68.1 215.0,66.9 216.0,63.8 215.0,61.9 212.1,61.0 208.8,60.6 205.0,60.2 200.0,61.2 196.2,63.8 190.0,65.2 181.2,68.8 171.9,70.2 180.0,68.1 187.5,65.6 193.8,63.8 191.2,63.1 188.1,61.2 188.8,59.0 192.5,57.2 196.9,55.4 193.8,54.4 196.2,53.5 200.0,52.5Z"/>
<path d="M225.0,75.0 246.2,75.0 248.8,76.0 251.9,77.0 254.0,77.0 256.2,78.8 257.8,81.2 257.2,83.5 258.8,82.9 262.5,81.2 266.2,79.4 267.5,80.5 271.2,79.0 273.8,81.1 275.0,82.0 271.2,83.6 266.2,85.5 263.8,88.6 260.6,90.5 261.2,93.6 256.2,96.8 253.1,99.9 251.9,101.8 252.8,106.1 251.2,108.6 249.4,104.9 248.1,102.4 243.8,101.8 238.8,103.0 233.8,103.6 230.6,106.1 228.8,104.9 225.0,101.8 225.0,96.8 219.4,100.2 215.0,99.9 210.6,97.8 210.0,96.8 207.8,93.6 207.2,89.2 208.1,84.9 210.6,81.1 214.4,78.0 215.6,75.0 225.0,75.0Z"/>
<path d="M154.8,112.0 157.5,113.2 159.8,115.5 159.0,116.8 156.9,114.2 154.8,112.5Z"/>
<path d="M210.6,97.8 215.0,99.9 219.4,100.2 225.0,96.8 225.0,101.8 228.8,104.9 230.6,106.1 229.6,107.5 230.0,111.7 231.2,115.0 233.3,117.1 235.8,117.5 237.5,115.0 239.2,113.3 242.9,113.3 242.1,115.8 240.4,117.5 238.3,118.8 236.7,118.8 235.8,120.0 235.0,121.7 233.3,121.2 231.2,120.4 228.3,120.8 225.0,119.6 222.5,117.4 219.4,114.2 217.5,109.2 215.0,103.0 213.1,99.2Z"/>
<path d="M211.0,98.4 213.1,99.2 213.4,101.8 214.6,106.8 216.5,111.5 215.0,110.8 212.5,104.9Z"/>
<path d="M235.0,121.7 235.8,120.0 236.7,118.8 238.3,118.8 239.3,119.0 239.3,121.2 239.6,122.1 237.9,123.8 235.8,123.3Z"/>
<path d="M239.6,122.1 241.7,121.2 245.0,121.2 246.2,122.5 244.6,123.3 242.1,124.2 240.4,124.6 239.6,123.5Z"/>
<path d="M237.9,123.8 239.6,123.5 240.4,124.6 238.8,124.8Z"/>
<path d="M240.4,124.8 242.1,124.2 244.6,123.3 246.2,122.7 245.8,125.4 245.0,127.9 242.9,127.5 241.2,125.8Z"/>
<path d="M242.1,127.9 245.0,128.2 245.8,130.0 245.0,131.2 243.8,130.0 242.3,129.2Z"/>
<path d="M245.8,130.0 247.1,131.2 249.2,130.8 250.8,130.0 252.1,130.8 251.2,132.1 250.0,131.7 248.3,132.9 246.8,132.5 245.4,131.5Z"/>
<path d="M245.0,112.1 247.1,111.0 250.0,111.0 253.3,112.5 256.2,114.2 257.1,115.4 254.6,115.2 252.1,113.8 249.2,112.7 246.7,112.9Z"/>
<path d="M253.3,106.2 255.4,106.2 255.4,107.1 253.3,107.1Z"/>
<path d="M254.6,108.3 256.0,108.3 256.5,110.0 255.2,110.0Z"/>
<path d="M257.1,110.4 258.2,110.4 258.7,112.1 257.5,112.1Z"/>
<path d="M258.3,112.9 259.2,112.9 259.3,114.2 258.5,114.2Z"/>
<path d="M252.5,117.5 254.6,117.5 254.8,118.3 252.7,118.5Z"/>
<path d="M257.1,115.8 259.6,115.4 260.4,115.8 260.4,118.3 259.6,118.3 257.1,117.9 258.3,117.1Z"/>
<path d="M260.4,115.8 262.9,116.2 264.6,117.9 262.5,118.8 260.4,118.3Z"/>
<path d="M266.2,117.8 268.1,117.8 268.1,118.6 266.2,118.6Z"/>
<path d="M271.7,128.8 272.8,128.8 272.8,129.7 271.7,129.7Z"/>
<path d="M272.2,120.8 272.9,120.8 272.9,121.7 272.2,121.7Z"/>
<path d="M272.7,123.8 273.3,123.8 273.3,124.7 272.7,124.7Z"/>
<path d="M272.2,126.3 272.9,126.3 272.9,127.1 272.2,127.1Z"/>
<path d="M294.4,40.0 298.8,38.1 307.5,36.2 317.5,35.2 328.8,34.8 337.5,35.6 342.5,36.5 338.8,38.1 335.6,41.2 331.2,45.0 328.8,48.1 321.2,51.2 316.2,53.1 311.2,57.5 307.5,60.6 305.0,60.0 301.9,56.2 301.0,51.9 302.5,47.5 304.4,44.4 303.8,41.9 298.8,41.9 295.0,41.2Z"/>
<path d="M251.9,132.2 255.6,128.1 258.8,126.9 258.1,130.6 261.2,134.4 265.0,136.9 265.0,141.2 261.9,141.5 261.2,145.6 258.8,147.2 255.0,145.6 251.9,142.5 248.8,141.9 251.9,138.8 251.2,135.0Z"/>
<path d="M258.1,128.8 261.2,126.9 266.2,127.5 272.5,129.4 273.1,132.5 271.9,136.2 268.1,137.5 266.9,141.2 265.0,141.2 265.0,136.9 261.2,134.4 258.1,130.6Z"/>
<path d="M273.1,131.9 276.2,134.4 276.2,140.0 273.8,140.6 273.1,136.5 271.9,136.2Z"/>
<path d="M276.2,135.6 280.0,135.6 280.0,140.0 276.2,140.0Z"/>
<path d="M280.2,136.0 283.5,136.9 282.5,140.0 280.2,140.0Z"/>
<path d="M248.8,141.9 251.9,142.5 255.0,145.6 251.9,150.0 248.1,149.4 247.5,145.0Z"/>
<path d="M248.1,149.4 251.9,150.0 255.0,145.6 258.8,147.2 261.2,145.6 256.9,151.9 258.1,155.6 262.5,157.8 262.5,166.9 261.2,168.1 255.6,164.4 251.9,157.5 248.8,151.9Z"/>
<path d="M266.9,141.2 268.1,137.5 271.9,136.2 273.1,136.5 273.8,140.6 276.2,140.0 280.0,140.0 282.5,140.0 284.4,137.5 286.2,142.5 291.2,145.0 296.2,146.9 300.0,148.1 300.0,149.4 303.1,150.6 304.8,153.1 303.8,156.2 300.6,161.2 300.0,162.5 300.0,170.0 298.1,174.4 292.5,176.9 290.0,180.6 288.8,185.0 285.6,189.4 283.8,187.5 280.6,186.0 282.5,180.6 282.8,177.5 278.8,175.0 276.2,171.2 281.9,175.0 278.1,173.1 276.9,170.6 276.2,167.5 273.8,162.8 268.1,160.2 267.5,157.1 262.5,157.8 258.1,155.6 256.9,151.9 261.2,145.6 261.9,141.5Z"/>
<path d="M262.5,157.8 267.5,157.1 268.1,160.2 273.8,162.8 276.2,167.5 276.9,170.6 272.5,171.2 271.2,174.4 266.2,174.4 263.8,171.9 262.5,166.9Z"/>
<path d="M272.5,171.2 276.9,170.6 278.1,173.1 281.9,175.0 282.5,177.5 282.5,180.6 280.0,181.9 276.2,178.8 273.1,175.0 271.9,174.4Z"/>
<path d="M262.5,166.9 263.8,171.9 265.2,175.0 265.2,177.5 266.2,187.5 267.5,198.8 269.4,206.2 272.5,212.5 276.2,216.2 280.0,218.5 281.5,219.8 277.5,219.5 271.2,215.8 266.9,207.5 265.0,198.8 263.5,187.5 262.5,177.5 262.4,170.0Z"/>
<path d="M266.2,174.4 271.2,174.4 271.9,174.4 273.1,175.0 276.2,178.8 280.0,181.9 282.5,180.6 280.6,185.6 279.4,188.8 283.1,192.5 282.5,196.2 278.8,198.8 275.6,201.2 276.9,205.0 275.0,208.1 276.9,211.2 274.4,214.4 277.5,216.9 280.6,218.8 276.2,216.5 272.5,212.5 269.4,206.2 267.5,198.8 266.2,187.5 265.2,177.5 265.2,175.0 263.8,171.9Z"/>
<path d="M280.0,186.0 283.8,187.5 285.6,189.8 283.8,191.5 280.6,190.8 279.4,188.8Z"/>
<path d="M285.2,214.2 287.2,214.2 287.2,215.2 285.2,215.2Z"/>
<path d="M234.2,143.2 236.0,143.2 236.0,144.5 234.2,144.5Z"/>
<path d="M378.0,48.0 379.5,49.0 383.0,48.5 389.0,50.0 387.5,51.2 388.8,49.4 392.5,50.0 395.6,49.4 400.0,48.8 406.2,49.4 410.0,47.5 409.4,45.0 412.5,45.6 415.6,48.1 416.9,45.6 418.8,45.0 423.8,43.1 427.5,41.9 431.2,40.0 436.2,40.6 441.2,41.9 445.0,43.8 450.0,44.4 455.0,44.8 460.0,45.0 463.8,46.2 468.8,45.6 473.8,46.2 481.2,46.9 487.5,47.5 493.8,48.1 500.0,48.8 506.2,49.4 512.5,50.6 518.8,51.9 525.0,53.1 526.2,53.5 526.2,55.0 521.9,54.8 518.8,55.6 521.2,57.5 517.5,58.8 515.6,60.6 518.1,58.8 515.0,60.0 513.1,61.5 510.6,62.5 512.5,66.2 515.0,69.0 515.2,75.0 513.8,76.8 510.8,73.2 507.9,68.8 506.2,65.0 506.8,61.2 505.0,58.5 502.5,59.4 501.2,61.9 497.5,61.9 492.5,62.5 490.0,65.0 488.8,67.5 492.5,68.8 496.2,72.5 499.4,75.0 500.0,80.0 498.1,83.1 495.0,84.4 494.4,81.9 495.0,78.1 492.5,76.2 487.5,75.0 483.8,73.1 480.6,70.6 476.9,70.0 474.4,73.1 468.8,73.8 462.5,72.5 458.8,73.1 453.8,71.2 450.0,73.1 452.5,71.2 445.0,73.1 440.0,77.5 438.8,81.2 435.0,83.8 433.1,86.2 435.0,88.8 434.4,91.5 431.9,90.0 427.5,91.5 422.5,92.5 419.4,94.4 420.6,100.0 421.9,103.8 421.2,106.2 416.2,106.9 411.9,105.6 408.8,103.8 405.0,100.0 403.8,100.0 401.9,96.2 400.0,92.5 399.4,88.8 400.0,85.6 394.4,83.5 395.0,83.5 391.0,82.0 389.5,80.5 387.0,81.0 386.0,79.5 384.0,78.5 381.5,79.5 379.5,76.0 377.0,76.0 373.5,77.0 373.5,74.5 374.5,72.0 380.0,71.5 383.0,70.0 382.5,67.5 379.0,66.2 377.5,65.5 376.5,63.5 377.0,62.0 377.5,60.0 379.5,58.0 379.0,55.0 378.0,51.5 377.0,49.5Z"/>
<path d="M496.5,67.9 499.2,70.8 502.0,74.4 504.0,78.0 503.0,76.2 505.5,79.4 503.8,80.2 500.4,77.1 498.0,73.1 499.5,74.8 497.5,71.5Z"/>
<path d="M395.6,45.6 397.5,43.1 401.9,41.2 406.2,40.6 406.9,41.9 403.1,42.5 400.0,44.4 399.4,46.9Z"/>
<path d="M386.2,37.0 393.8,36.2 400.6,36.5 400.0,37.5 393.8,37.2 386.5,37.9Z"/>
<path d="M419.4,36.2 425.0,36.9 433.8,38.5 433.1,39.5 425.0,38.0 419.5,37.2Z"/>
<path d="M462.5,41.9 468.8,41.5 475.6,42.5 475.0,43.5 468.8,43.1 463.1,42.8Z"/>
<path d="M506.9,46.9 509.4,47.0 509.4,47.9 506.9,47.8Z"/>
<path d="M398.8,85.6 403.1,85.6 405.0,87.5 404.4,89.0 400.6,88.8Z"/>
<path d="M379.5,76.0 381.5,77.0 381.5,79.5 380.0,78.0Z"/>
<path d="M327.5,53.8 330.0,52.8 335.0,52.8 337.5,54.4 335.0,56.0 331.9,56.5 328.8,55.6Z"/>
<path d="M360.0,38.5 364.0,37.5 369.0,37.2 372.0,38.0 370.5,40.0 367.0,39.5 364.5,41.0 362.0,40.0Z"/>
<path d="M355.0,57.9 358.3,56.2 360.4,54.2 362.1,51.7 363.3,49.6 367.5,47.9 372.5,47.1 377.1,47.9 377.5,49.2 374.2,50.0 370.8,49.6 367.9,50.4 365.4,52.1 364.6,54.6 362.9,56.7 361.7,58.8 361.2,62.1 359.6,63.3 356.7,62.5 355.0,60.8Z"/>
<path d="M365.4,52.1 367.9,50.4 370.8,49.6 372.9,50.4 373.2,53.3 371.0,54.8 369.0,56.5 367.5,58.2 368.2,60.8 367.3,63.3 365.2,65.4 362.9,65.8 361.7,64.2 361.2,62.1 361.7,58.8 362.9,56.7 364.6,54.6Z"/>
<path d="M372.9,50.4 374.2,50.0 377.5,49.2 377.1,51.7 378.3,54.6 379.2,57.5 377.1,59.6 373.8,60.8 371.2,60.4 370.2,57.9 371.5,55.8 373.2,53.8Z"/>
<path d="M357.5,64.6 360.0,64.2 361.2,65.8 360.0,67.9 357.9,67.1Z"/>
<path d="M361.3,66.2 362.7,66.0 362.7,67.5 361.5,67.7Z"/>
<path d="M372.1,61.8 376.2,61.5 376.7,63.2 372.9,63.5Z"/>
<path d="M371.2,64.2 376.7,63.5 377.9,65.0 374.6,65.7 371.7,65.7Z"/>
<path d="M370.4,66.0 374.6,65.7 377.1,66.5 375.8,68.3 372.5,68.2 370.7,67.3Z"/>
<path d="M375.5,67.5 379.0,66.2 382.5,67.5 383.0,70.0 380.0,71.5 374.5,72.0 373.5,69.2 375.5,69.0Z"/>
<path d="M364.6,68.5 370.0,67.7 373.3,68.9 374.2,71.8 373.3,74.2 368.8,74.2 365.0,73.1Z"/>
<path d="M369.0,67.0 370.8,67.0 370.8,67.8 369.2,67.8Z"/>
<path d="M342.5,63.5 346.0,62.5 347.5,65.0 347.5,67.7 350.0,69.3 350.8,71.8 348.8,73.1 344.6,73.1 344.2,71.0 345.0,68.9 343.3,67.7Z"/>
<path d="M340.5,68.0 342.2,67.6 342.4,69.0 340.8,69.2Z"/>
<path d="M338.3,68.1 341.2,67.2 342.1,69.8 340.4,71.4 338.3,71.0Z"/>
<path d="M344.6,76.0 347.5,74.8 350.0,75.2 351.2,73.5 353.8,73.1 356.2,75.2 356.5,78.5 355.4,79.8 356.2,81.8 353.8,82.7 350.4,83.1 347.5,82.2 347.1,79.8 344.6,77.7Z"/>
<path d="M357.7,83.5 358.8,83.3 358.8,85.6 357.8,85.6Z"/>
<path d="M354.0,69.5 356.5,68.8 356.5,71.2 354.3,71.5Z"/>
<path d="M353.3,71.5 356.5,71.2 356.5,73.2 354.2,73.5Z"/>
<path d="M356.5,68.5 360.0,67.7 363.8,68.5 364.6,71.8 363.8,73.9 364.6,76.0 362.9,77.7 359.6,77.7 356.5,76.8 356.5,72.7Z"/>
<path d="M356.3,77.2 359.6,77.7 359.6,79.2 356.8,79.5Z"/>
<path d="M359.8,77.7 363.8,76.7 366.2,77.5 365.0,79.2 360.4,79.3Z"/>
<path d="M364.2,74.3 368.8,74.2 369.6,75.6 366.7,76.7 363.8,75.8Z"/>
<path d="M369.2,75.8 373.3,75.2 373.5,76.7 370.0,77.2Z"/>
<path d="M367.1,77.7 370.0,77.2 373.5,76.8 372.9,78.9 369.2,80.0 366.7,79.2Z"/>
<path d="M364.2,79.3 366.7,79.2 366.8,80.3 364.3,80.5Z"/>
<path d="M364.6,80.3 369.2,80.0 369.3,81.2 367.1,81.2 368.3,83.1 367.1,82.7 365.4,81.4Z"/>
<path d="M367.1,81.2 369.3,81.2 369.8,83.1 368.8,83.5 368.3,83.3Z"/>
<path d="M369.3,80.2 372.1,79.8 373.2,81.8 372.3,83.9 370.4,83.7 369.8,81.8Z"/>
<path d="M368.8,83.5 370.2,83.5 370.3,84.8 369.2,84.8Z"/>
<path d="M369.8,84.8 371.0,84.8 371.2,87.0 370.0,86.8Z"/>
<path d="M370.4,83.7 371.8,83.8 371.7,84.8 370.6,84.8Z"/>
<path d="M371.1,84.8 373.3,84.5 373.3,85.8 371.3,86.0Z"/>
<path d="M373.5,76.7 377.1,75.6 380.0,77.5 380.8,80.0 379.2,81.0 375.0,81.4 372.9,79.8Z"/>
<path d="M373.3,81.8 379.2,81.2 380.0,83.5 376.2,84.5 373.5,83.7Z"/>
<path d="M371.4,86.0 373.3,85.8 376.2,84.8 377.1,86.0 374.6,86.7 375.0,89.3 376.7,91.4 374.6,91.8 372.5,89.3 371.4,87.2Z"/>
<path d="M375.3,94.3 378.6,94.5 378.6,95.2 375.4,95.1Z"/>
<path d="M378.0,86.5 380.5,85.5 383.0,86.2 387.0,85.7 391.0,85.7 395.0,86.2 392.5,85.2 395.6,85.6 398.1,86.2 399.4,88.8 396.9,91.2 393.1,92.5 389.4,93.1 385.0,92.5 392.0,92.5 389.5,93.0 387.0,92.5 384.0,93.0 381.0,92.5 379.0,91.0 378.0,89.0Z"/>
<path d="M376.8,85.4 379.5,85.2 379.7,86.4 377.2,86.6Z"/>
<path d="M394.4,83.5 399.4,84.0 400.0,85.6 395.6,85.6Z"/>
<path d="M385.3,94.0 387.7,93.8 387.7,94.8 385.5,94.9Z"/>
<path d="M356.5,79.8 360.0,79.3 364.2,79.5 364.0,81.0 362.5,81.7 363.8,83.9 367.1,86.4 369.6,87.8 369.0,89.3 367.5,88.7 367.9,91.0 366.5,91.4 365.4,89.2 363.3,86.8 361.0,84.8 359.6,82.2 357.5,82.2 356.5,81.2Z"/>
<path d="M363.3,91.0 367.1,91.4 366.0,93.1 363.3,92.2Z"/>
<path d="M357.5,86.4 359.0,86.2 359.2,89.3 357.7,89.5Z"/>
<path d="M337.9,83.9 341.2,83.1 347.1,83.7 350.4,85.0 350.0,86.4 347.5,87.8 347.1,90.6 344.6,92.0 340.8,92.0 339.6,91.0 339.6,87.2 340.0,85.0 337.9,85.0Z"/>
<path d="M337.9,85.0 340.0,85.0 339.6,87.2 339.6,91.0 337.7,91.0Z"/>
<path d="M351.2,88.7 352.9,88.7 352.9,89.4 351.2,89.4Z"/>
<path d="M330.0,105.5 332.5,104.9 336.2,104.2 336.2,107.0 332.5,109.9 330.0,111.1Z"/>
<path d="M377.1,99.3 376.2,98.3 382.0,100.5 387.0,100.5 388.0,101.0 387.5,100.6 388.8,103.8 386.5,106.9 388.1,104.4 387.8,105.5 390.5,111.8 377.5,112.0 377.5,108.0Z"/>
<path d="M330.0,111.1 332.5,109.9 336.2,107.0 336.2,106.8 339.4,108.6 340.0,114.2 340.6,121.1 335.0,121.8 330.0,120.5Z"/>
<path d="M339.4,108.6 350.0,115.5 352.5,116.8 351.9,120.5 345.0,123.0 342.5,124.9 340.6,126.1 337.5,124.9 333.8,124.2 333.1,122.4 335.0,121.8 340.6,121.1 340.0,114.2Z"/>
<path d="M352.5,116.8 361.2,110.5 366.2,110.9 366.9,118.0 365.0,121.8 363.8,124.9 357.5,124.2 353.1,124.9 351.9,120.5Z"/>
<path d="M366.2,110.9 376.9,115.2 376.9,119.2 375.0,122.4 375.6,128.0 372.5,129.9 367.5,131.8 365.0,129.2 363.8,124.9 365.0,121.8 366.9,118.0Z"/>
<path d="M377.5,112.0 390.5,111.8 392.0,116.8 394.8,118.9 391.9,122.4 391.2,123.0 390.0,127.8 386.2,129.2 380.0,129.2 375.6,128.0 375.0,122.4 376.9,119.2 376.9,115.2Z"/>
<path d="M375.6,128.2 380.0,129.5 386.2,129.5 390.0,128.0 390.0,133.6 388.8,137.0 383.8,137.6 380.0,134.2Z"/>
<path d="M390.0,137.0 393.8,138.2 398.1,137.6 397.8,143.2 399.5,146.8 396.5,149.5 389.8,144.5Z"/>
<path d="M384.4,138.0 388.8,137.2 389.8,141.8 386.5,143.8 384.0,142.5Z"/>
<path d="M328.5,120.8 330.0,120.8 333.5,122.4 334.0,124.9 330.0,125.0 328.2,124.2Z"/>
<path d="M328.8,125.2 331.0,125.0 331.2,126.8 329.5,127.0Z"/>
<path d="M329.8,127.0 331.2,125.0 333.8,124.5 337.5,125.0 340.6,126.2 337.5,129.2 336.9,133.0 334.4,133.0 333.8,129.9 331.2,130.1Z"/>
<path d="M331.5,130.8 333.8,129.9 334.4,133.0 332.8,133.8Z"/>
<path d="M333.8,133.2 336.9,133.0 338.1,136.1 336.2,137.0Z"/>
<path d="M337.5,129.2 341.2,128.6 343.8,128.6 344.4,136.1 338.1,136.1 336.9,133.0Z"/>
<path d="M343.8,128.6 347.8,128.0 348.1,134.5 344.4,136.1Z"/>
<path d="M347.8,128.0 349.0,128.0 349.4,134.2 348.1,134.5Z"/>
<path d="M349.0,126.5 351.2,125.8 351.2,133.6 349.4,134.2Z"/>
<path d="M340.6,126.1 345.0,123.0 351.9,121.1 353.1,124.9 349.0,126.5 347.8,128.0 343.8,128.6 341.2,128.6Z"/>
<path d="M351.2,125.5 357.5,124.5 363.8,125.1 364.4,129.2 361.9,131.1 358.8,135.5 355.0,136.8 351.2,133.6Z"/>
<path d="M361.9,131.1 363.8,129.2 364.8,125.8 365.6,129.9 365.0,134.9 366.2,138.0 363.8,139.9 358.5,139.9 358.8,135.5Z"/>
<path d="M367.5,132.0 372.5,129.9 375.6,128.2 380.0,134.2 376.2,135.5 371.2,135.5 366.2,138.0 365.0,134.9Z"/>
<path d="M358.5,140.0 360.8,140.0 360.8,141.2 358.5,141.2Z"/>
<path d="M358.1,141.4 360.8,141.2 361.0,140.2 363.5,140.2 363.8,146.1 360.6,147.4 358.1,144.9Z"/>
<path d="M363.8,139.9 366.2,138.0 370.0,136.8 368.8,141.8 366.2,147.4 363.1,149.2 361.2,148.0 363.8,146.1Z"/>
<path d="M370.0,136.8 371.2,135.5 376.2,135.5 380.0,134.2 383.8,137.6 384.4,142.4 383.5,147.4 383.8,149.8 382.5,154.8 382.5,158.5 385.0,159.1 383.8,161.6 380.6,159.1 375.0,158.5 375.0,154.1 371.9,153.5 370.0,151.6 363.8,151.6 362.2,151.0 363.1,149.2 366.2,147.4 368.8,141.8Z"/>
<path d="M383.5,144.8 385.4,144.8 385.4,146.5 383.5,146.5Z"/>
<path d="M383.5,146.6 385.4,146.6 385.2,148.2 383.8,148.2Z"/>
<path d="M385.6,144.2 389.8,142.0 389.8,144.5 396.5,149.5 394.4,148.5 396.2,153.5 396.2,157.9 390.0,159.1 387.5,156.2 384.4,154.8 383.8,149.8 383.5,147.4 384.4,144.9Z"/>
<path d="M361.9,151.6 370.0,151.6 371.9,153.5 375.0,154.1 375.0,160.4 374.4,166.6 361.9,167.0 361.9,161.6 363.8,156.6Z"/>
<path d="M361.0,149.5 362.5,149.2 362.5,150.8 361.2,150.8Z"/>
<path d="M375.0,160.4 380.6,159.1 383.8,161.6 385.0,159.1 382.5,158.5 382.5,155.4 387.5,156.6 388.8,161.6 385.0,163.5 382.5,166.0 378.8,167.9 374.4,166.6Z"/>
<path d="M387.5,156.2 389.0,156.6 390.2,162.2 388.8,162.2Z"/>
<path d="M390.0,159.1 396.2,157.9 396.9,162.2 393.8,166.6 390.0,169.8 389.4,174.1 390.0,177.2 386.9,179.1 386.2,174.8 388.1,170.4 387.5,166.6 385.0,164.1 388.8,162.2 390.2,162.2Z"/>
<path d="M379.4,168.5 382.5,166.0 385.0,164.1 388.1,166.6 388.1,170.4 385.0,174.1 381.9,172.9Z"/>
<path d="M371.9,169.1 374.4,169.1 378.8,167.9 381.9,172.9 385.0,174.5 381.2,176.0 378.1,179.1 374.4,179.8 371.9,178.5 372.5,173.5Z"/>
<path d="M361.9,167.5 374.4,167.0 378.8,167.9 374.4,169.1 371.9,169.1 372.2,173.5 371.9,182.9 368.1,182.9 365.6,178.5 363.1,172.2Z"/>
<path d="M368.1,183.2 371.9,182.9 371.9,178.8 374.4,180.0 378.1,179.1 381.2,176.0 385.0,174.8 386.9,179.1 385.6,182.2 381.9,187.2 377.5,189.8 371.2,191.2 369.0,189.1Z"/>
<path d="M379.6,183.5 382.2,183.2 382.2,185.2 379.8,185.4Z"/>
<path d="M384.5,179.2 386.0,179.2 386.0,180.8 384.5,180.8Z"/>
<path d="M400.0,172.9 401.9,166.6 406.9,160.4 408.8,161.6 408.1,166.0 405.6,173.5 403.1,178.5 400.6,177.9Z"/>
<path d="M400.0,159.5 401.5,159.5 401.5,160.5 400.0,160.5Z"/>
<path d="M416.2,171.0 417.8,171.0 417.8,172.2 416.2,172.2Z"/>
<path d="M321.2,122.4 322.8,122.4 322.8,123.6 321.2,123.6Z"/>
<path d="M355.6,141.1 356.6,141.1 356.6,142.1 355.6,142.1Z"/>
<path d="M392.1,119.2 394.2,118.8 397.5,122.9 399.6,125.8 398.3,126.0 396.2,123.8 393.3,122.9 391.7,121.7Z"/>
<path d="M398.5,126.0 400.0,125.8 400.2,127.9 398.8,128.2Z"/>
<path d="M391.2,124.2 393.3,122.9 396.2,123.8 398.3,126.0 398.8,128.2 400.4,130.0 405.4,132.1 402.9,135.0 399.2,137.5 394.2,137.9 391.2,136.2 388.8,132.5 389.6,128.3Z"/>
<path d="M400.2,128.0 404.2,127.5 410.0,126.8 409.6,129.2 407.9,132.5 404.6,136.7 400.8,140.0 398.1,143.6 398.1,137.8 394.2,137.9 399.2,137.5 402.9,135.0 405.4,132.1 400.4,130.0 398.8,128.2Z"/>
<path d="M412.1,125.0 413.8,125.0 413.8,125.8 412.1,125.8Z"/>
<path d="M336.7,95.6 341.2,94.3 345.0,93.5 345.8,95.2 345.0,97.5 340.8,99.8 338.8,100.6 336.2,104.2 332.5,104.9 330.0,105.5 335.0,100.0Z"/>
<path d="M345.0,93.5 350.8,92.0 357.9,91.8 359.2,94.8 358.5,98.1 360.0,101.0 361.2,110.5 352.5,116.8 350.0,115.5 339.4,108.6 336.2,106.8 336.2,104.2 338.8,100.6 340.8,99.8 345.0,97.5 345.8,95.2Z"/>
<path d="M357.9,91.8 360.0,91.4 360.8,93.9 360.0,96.4 361.2,98.9 359.6,100.2 358.5,98.1 359.2,94.8Z"/>
<path d="M360.0,101.0 359.6,100.2 361.2,98.9 363.8,97.5 367.9,99.2 372.1,97.7 376.2,98.3 377.1,99.3 377.5,108.0 376.9,114.9 366.2,110.5 361.2,110.5Z"/>
<path d="M389.4,93.1 393.1,92.5 397.5,91.5 393.8,96.9 390.6,98.1 389.4,95.6Z"/>
<path d="M388.5,95.6 389.5,95.6 389.5,97.8 388.5,97.8Z"/>
<path d="M387.8,98.1 389.1,97.9 389.0,102.5 388.0,101.2Z"/>
<path d="M389.1,99.4 390.6,98.1 393.8,96.9 391.9,100.0 390.0,102.8 389.0,102.2Z"/>
<path d="M393.8,96.9 397.5,91.5 400.0,92.5 401.9,96.2 403.8,100.0 400.6,101.9 396.9,99.4Z"/>
<path d="M403.5,100.0 405.2,100.2 405.5,102.0 403.8,102.0Z"/>
<path d="M419.4,94.4 422.5,92.5 427.5,91.5 431.9,90.0 434.4,91.5 430.0,93.1 429.4,96.9 426.2,100.0 421.9,101.2 420.6,99.8Z"/>
<path d="M421.9,103.8 421.9,101.2 426.2,100.0 429.4,96.9 430.0,93.1 434.4,91.5 437.5,93.1 435.6,95.6 434.4,99.4 432.5,103.8 430.0,106.2 431.9,108.8 428.1,108.8 425.0,107.5 421.2,106.5Z"/>
<path d="M435.6,95.6 437.5,93.1 440.6,94.4 440.0,98.1 443.8,102.5 448.8,104.0 453.1,104.6 453.1,101.9 458.8,103.8 460.0,106.2 453.8,105.2 457.5,106.2 455.6,108.1 453.8,106.9 452.5,112.5 456.9,111.2 455.0,111.9 453.8,107.5 452.5,106.9 450.6,110.0 447.5,113.8 445.0,118.8 443.8,123.0 444.4,128.9 442.5,132.0 439.4,127.0 436.2,119.5 438.8,123.0 436.2,117.5 435.0,112.5 432.5,113.1 430.6,110.6 431.9,108.8 430.0,106.2 432.5,103.8 434.4,99.4Z"/>
<path d="M443.1,101.9 447.5,103.1 452.5,105.0 452.5,106.5 447.5,105.2 443.1,103.5Z"/>
<path d="M453.5,104.2 456.5,104.5 456.5,105.9 453.5,105.8Z"/>
<path d="M453.8,107.5 456.5,107.2 457.2,111.2 455.0,112.0Z"/>
<path d="M445.2,130.1 446.5,130.8 447.8,133.9 446.0,135.1 445.0,133.2Z"/>
<path d="M440.0,77.5 442.5,75.6 445.0,73.1 450.0,73.1 450.0,80.6 456.2,83.8 462.5,84.4 467.5,85.0 471.9,83.1 476.2,80.0 479.4,78.1 475.0,76.2 474.4,73.1 476.9,70.0 480.6,70.6 483.8,73.1 487.5,75.0 492.5,76.2 495.0,78.1 494.4,81.9 493.1,84.4 490.0,87.5 486.9,86.9 484.4,88.8 483.1,90.0 486.2,91.2 488.8,92.5 486.9,94.4 488.8,96.9 491.2,100.6 491.9,104.4 490.0,108.1 486.9,111.2 482.5,113.8 480.6,114.4 478.8,113.1 475.0,111.9 471.9,111.2 468.8,113.1 466.2,111.2 463.8,106.2 460.6,103.1 457.5,106.2 453.8,105.2 460.0,106.2 458.8,103.8 453.1,101.9 453.1,104.6 448.8,104.0 443.8,102.5 440.0,98.1 440.6,94.4 437.5,93.1 434.4,91.5 435.0,88.8 433.1,86.2 435.0,83.8 438.8,81.2Z"/>
<path d="M479.0,115.6 481.0,115.4 481.0,117.8 479.2,117.8Z"/>
<path d="M445.0,73.1 452.5,71.2 450.0,73.1 453.8,71.2 458.8,73.1 462.5,72.5 468.8,73.8 474.4,73.1 475.0,76.2 479.4,78.1 476.2,80.0 471.9,83.1 467.5,85.0 462.5,84.4 456.2,83.8 450.0,80.6Z"/>
<path d="M490.0,87.5 493.1,84.8 495.0,84.8 494.5,87.5 493.2,90.2 490.6,90.0Z"/>
<path d="M493.2,90.2 495.6,90.6 497.5,93.8 495.6,95.6 493.8,93.1Z"/>
<path d="M504.0,81.0 506.9,80.2 511.0,82.5 509.0,84.8 505.5,85.0Z"/>
<path d="M506.9,85.2 509.8,86.5 510.5,90.6 511.2,93.8 508.5,95.5 505.2,96.8 502.5,98.8 499.8,98.5 499.0,96.0 502.8,94.0 505.8,91.5 506.5,88.5Z"/>
<path d="M499.1,97.8 501.9,98.2 501.2,100.8 499.4,100.2Z"/>
<path d="M500.2,103.8 501.2,103.8 501.2,104.8 500.2,104.8Z"/>
<path d="M491.9,108.8 493.5,108.1 493.5,111.9 492.2,112.5Z"/>
<path d="M457.5,106.2 460.6,103.1 463.8,106.2 465.0,110.5 467.5,113.0 467.9,115.1 466.2,115.9 465.4,118.0 465.8,121.3 466.7,124.7 467.5,129.7 466.7,130.1 465.4,126.8 464.6,123.0 465.0,120.5 462.9,120.5 462.1,118.0 460.4,115.9 458.3,113.0 457.1,110.5 455.6,108.1Z"/>
<path d="M465.4,118.0 466.2,115.9 469.2,115.5 471.7,117.2 473.8,119.7 474.6,122.6 472.9,123.4 472.9,125.9 470.8,125.5 468.8,126.3 468.3,129.2 469.6,132.2 471.7,134.7 470.4,135.1 468.3,132.2 467.1,128.8 466.7,124.7 465.8,121.3Z"/>
<path d="M467.5,113.0 470.4,112.6 472.9,112.2 474.2,114.2 476.2,116.3 478.8,120.1 479.6,122.6 477.5,123.2 476.7,120.5 474.6,118.8 473.8,119.7 471.7,117.2 469.2,115.5 467.9,115.1Z"/>
<path d="M472.9,112.2 475.8,112.6 477.9,114.2 476.7,116.3 478.8,118.8 480.8,122.6 480.8,125.9 479.2,128.4 476.2,130.5 475.8,129.2 477.9,127.2 478.3,124.7 477.5,123.2 479.6,122.6 478.8,120.1 476.2,116.3 474.2,114.2Z"/>
<path d="M472.9,123.4 474.6,122.8 477.5,123.2 478.3,124.7 477.5,126.8 475.4,128.8 473.8,127.6 472.9,125.9Z"/>
<path d="M479.2,115.5 481.2,115.1 481.5,117.0 479.6,117.8Z"/>
<path d="M491.7,108.4 493.2,108.0 493.3,111.3 492.3,112.6 491.7,110.9Z"/>
<path d="M493.3,117.6 495.8,117.6 496.2,120.5 497.5,123.0 499.6,125.9 500.8,128.4 499.6,128.8 497.5,126.8 495.4,124.7 494.2,121.8 493.3,119.7Z"/>
<path d="M496.7,127.2 500.0,128.8 501.2,130.5 500.4,131.8 498.3,130.9 497.1,129.2Z"/>
<path d="M497.5,132.2 500.4,131.8 502.9,133.0 503.3,135.9 501.7,137.2 499.6,135.5 498.3,133.8Z"/>
<path d="M490.8,130.9 494.2,127.6 494.8,128.2 491.7,131.8Z"/>
<path d="M470.4,135.1 471.7,134.7 473.8,136.8 475.0,140.1 475.0,138.8 475.4,141.2 473.8,140.8 472.1,138.8 472.1,140.1 470.8,137.2Z"/>
<path d="M483.8,141.2 486.7,138.8 489.2,136.7 490.8,135.0 490.8,133.8 492.9,134.7 493.3,136.8 492.9,137.5 492.1,138.3 490.0,137.9 488.3,139.6 485.8,141.2 483.8,142.1Z"/>
<path d="M489.2,135.5 490.7,134.0 491.7,134.7 490.4,136.3Z"/>
<path d="M463.8,135.4 466.7,135.8 469.2,138.3 471.7,140.8 474.2,142.9 476.2,145.4 477.5,148.3 477.1,151.2 475.4,150.8 472.9,148.8 470.4,145.8 467.9,142.1 465.4,138.8Z"/>
<path d="M477.1,151.7 480.0,152.1 483.3,152.9 486.7,154.2 490.0,155.0 492.1,155.4 492.1,156.5 489.2,156.0 485.8,155.4 481.7,154.6 478.3,153.3 476.8,152.5Z"/>
<path d="M492.9,155.7 495.0,155.8 498.3,155.4 501.2,155.0 502.9,154.6 502.9,155.4 500.0,156.2 496.7,156.8 493.3,156.7Z"/>
<path d="M495.0,155.0 498.3,154.2 502.1,154.6 501.7,155.8 498.3,156.7 495.4,156.2Z"/>
<path d="M495.8,157.5 497.5,157.5 497.5,158.2 495.8,158.2Z"/>
<path d="M481.2,141.7 483.8,142.1 485.8,141.2 488.3,139.6 490.0,137.9 492.1,138.3 492.9,141.2 491.7,143.8 490.4,145.8 489.6,148.3 487.5,147.9 485.4,147.5 483.3,146.7 481.7,144.2Z"/>
<path d="M495.0,142.5 497.5,142.1 500.4,141.2 500.8,142.3 497.9,143.3 496.7,143.8 498.3,145.8 498.8,150.0 497.5,150.0 496.7,147.1 495.8,146.7 495.4,150.8 494.0,150.8 494.2,146.7 494.8,144.2Z"/>
<path d="M504.2,140.4 505.4,140.0 505.7,143.3 504.6,145.4 504.0,142.5Z"/>
<path d="M502.1,147.5 507.1,147.1 507.5,148.2 502.9,148.8Z"/>
<path d="M507.9,143.8 510.8,144.2 512.9,145.4 512.1,147.1 512.9,147.1 515.8,145.8 519.2,146.2 520.8,147.1 520.8,155.4 518.8,155.0 516.2,154.2 517.1,152.1 515.0,150.4 512.9,148.8 510.8,148.3 509.6,147.9 508.3,145.8Z"/>
<path d="M510.0,151.2 512.9,151.5 512.9,152.5 510.0,152.3Z"/>
<path d="M478.2,147.2 479.3,147.2 479.3,148.2 478.2,148.2Z"/>
<path d="M520.8,147.1 523.8,147.9 526.2,149.6 527.9,151.2 529.6,152.1 528.3,153.3 530.0,155.4 532.1,157.1 531.2,157.9 528.3,156.7 526.2,155.0 524.2,154.2 522.5,155.4 520.8,155.4Z"/>
<path d="M529.6,151.5 532.1,150.8 534.2,149.6 535.4,148.8 535.0,150.0 532.9,151.7 530.4,152.3Z"/>
<path d="M531.7,145.8 532.9,146.7 534.6,148.3 534.2,148.8 532.5,147.5Z"/>
<path d="M537.1,150.8 538.3,152.1 538.8,152.9 537.7,152.3Z"/>
<path d="M539.6,153.8 541.7,155.0 544.6,156.7 544.2,157.5 541.2,156.0 539.4,154.6Z"/>
<path d="M390.0,102.8 391.9,100.0 393.8,96.9 396.9,99.4 400.6,101.9 403.8,102.0 405.6,103.1 408.1,106.9 408.8,107.5 410.8,110.0 411.7,111.7 414.2,111.2 414.2,113.3 412.5,115.0 410.0,117.5 405.0,118.8 400.8,120.0 398.8,119.6 397.5,119.6 393.3,114.2 390.0,105.0Z"/>
<path d="M408.7,107.3 410.0,107.3 410.0,109.3 408.8,109.2Z"/>
<path d="M410.8,110.0 413.3,108.3 414.6,109.2 414.2,111.2 411.7,111.7Z"/>
<path d="M414.2,111.2 416.2,110.0 418.3,111.2 419.2,112.9 417.5,115.8 414.6,118.8 411.7,120.0 410.0,117.5 412.5,115.0 414.2,113.3Z"/>
<path d="M414.2,107.5 415.0,107.5 415.0,108.8 414.2,108.8Z"/>
<path d="M399.6,120.4 400.8,120.0 405.0,118.8 410.0,117.5 411.7,120.0 409.2,121.7 405.0,123.8 400.8,125.4 399.6,123.8Z"/>
<path d="M481.9,190.6 483.1,186.2 482.5,180.6 484.4,175.0 488.8,172.5 493.8,170.6 496.9,166.9 500.0,163.8 504.4,163.1 506.2,160.0 510.6,159.4 515.0,160.6 514.4,163.8 518.1,167.5 520.0,162.5 521.5,158.1 523.1,162.5 524.4,166.9 527.5,171.2 530.0,176.2 530.6,181.9 528.8,186.9 526.2,190.6 523.1,194.4 518.1,196.9 513.8,196.9 510.0,196.2 508.1,193.1 506.2,190.0 503.1,188.1 499.4,187.5 495.0,189.0 490.0,190.0 485.6,191.9Z"/>
<path d="M511.2,198.1 515.6,197.8 515.0,201.2 512.2,203.8 510.6,201.9Z"/>
<path d="M548.2,191.5 549.8,191.5 550.0,194.5 552.5,195.5 552.0,197.0 549.5,198.5 547.5,200.0 545.8,199.0 546.8,197.0 548.5,195.5Z"/>
<path d="M545.8,200.0 544.0,199.5 540.0,202.0 535.0,204.5 531.5,206.5 531.0,208.5 534.0,208.2 538.0,206.0 542.0,203.5 545.0,201.5Z"/>
<path d="M551.0,204.0 552.5,204.0 552.5,204.8 551.0,204.8Z"/>
<path d="M545.8,171.5 546.8,171.2 549.2,173.2 548.4,173.6Z"/>
<path d="M528.4,55.9 530.4,55.9 530.4,56.6 528.4,56.6Z"/>
<path d="M529.0,69.9 531.0,69.9 531.0,70.6 529.0,70.6Z"/>
<path d="M536.2,71.1 541.2,70.9 547.2,70.2 547.2,70.8 541.2,71.4 536.4,71.6Z"/>
</g>
<g stroke="#fff" stroke-width="0.3" fill="none" stroke-opacity="0.7">
<path d="M250.0,42.7 253.3,43.7 256.7,44.3 260.4,44.5"/>
<path d="M260.4,40.2 266.7,40.3 273.3,40.8 277.9,41.5 285.0,42.2"/>
<path d="M265.4,40.3 265.8,42.8 267.9,45.3"/>
<path d="M275.0,41.3 274.2,43.7 272.5,45.8"/>
<path d="M280.0,41.3 282.1,44.5 285.0,47.8 287.5,50.8"/>
<path d="M278.8,54.1 281.7,57.0 285.0,57.8"/>
<path d="M398.8,74.4 401.9,71.9 407.5,71.2 412.5,68.8 417.5,66.9 422.5,68.1 428.8,68.1 432.5,70.6 437.5,73.1 442.5,74.4 445.0,78.0 440.0,77.5"/>
<path d="M400.6,80.0 398.8,77.5 399.4,75.0 403.8,71.9"/>
<path d="M407.5,83.1 410.6,83.8 410.0,81.2 413.8,80.0 417.5,82.5 425.0,81.9 428.8,83.8 435.0,83.8"/>
<path d="M410.6,83.8 415.0,85.6 418.8,88.8 419.4,90.6 422.5,92.5"/>
<path d="M408.8,91.5 413.8,88.8 418.8,90.6 419.4,94.4"/>
<path d="M425.0,82.1 426.2,85.0 428.8,86.2 433.1,86.2"/>
<path d="M422.5,88.8 427.5,88.8 431.9,90.0"/>
<path d="M426.2,85.0 423.8,86.9 422.5,88.8 421.2,90.0"/>
<path d="M383.0,70.0 383.0,71.0 388.0,72.5 392.0,74.0 392.5,77.0 389.5,79.0 389.5,80.5"/>
</g>
</svg>
<div id="hdr"></div>
<svg width="600" height="424" viewBox="0 0 600 424" font-family="Liberation Sans, sans-serif">
<circle cx="35.55" cy="49.4" r="7.75" fill="#fff"/>
<path d="M33.96,47.60 C33.78,45.50 35.04,43.88 37.20,43.58 C39.48,43.40 41.52,44.72 42.24,47.00 C40.20,48.08 36.60,48.32 33.96,47.60Z" fill="#1d1d1b"/>
<circle cx="35.16" cy="45.86" r="0.95" fill="#fff"/>
<path d="M36.48,51.20 C38.70,50.96 41.10,50.00 42.12,48.92 C42.30,51.50 41.10,54.32 38.52,55.64 C37.08,54.98 36.42,53.30 36.48,51.20Z" fill="#1d1d1b"/>
<path d="M31.20,44.60 C29.70,47.60 29.70,51.80 31.80,55.10" stroke="#d4d4d4" stroke-width="0.3" fill="none"/>
<path d="M33.60,48.68 C33.00,51.20 33.30,54.20 34.50,56.30" stroke="#d4d4d4" stroke-width="0.3" fill="none"/>
<path d="M29.10,48.20 C30.60,48.80 32.40,48.80 33.90,48.32" stroke="#d4d4d4" stroke-width="0.3" fill="none"/>
<text x="44.3" y="49.1" font-size="8.2" font-weight="bold" fill="#fff" stroke="#fff" stroke-width="0.22" textLength="60.6" lengthAdjust="spacingAndGlyphs">TRANSPARENCY</text>
<text x="44.7" y="56.0" font-size="8.0" font-weight="bold" fill="#fff" stroke="#fff" stroke-width="0.22" textLength="60.2" lengthAdjust="spacingAndGlyphs">INTERNATIONAL</text>
<text x="45.2" y="59.8" font-size="3.5" font-weight="bold" fill="#fff" textLength="60.6" lengthAdjust="spacingAndGlyphs">the global coalition against corruption</text>
<text x="28.9" y="91.0" font-size="22.2" font-weight="bold" fill="#fff" stroke="#fff" stroke-width="1.0" stroke-linejoin="miter" textLength="101.6" lengthAdjust="spacingAndGlyphs">CORRUPTION</text>
<text x="29.1" y="112.5" font-size="22.2" font-weight="bold" fill="#fff" stroke="#fff" stroke-width="1.0" stroke-linejoin="miter" textLength="108.6" lengthAdjust="spacingAndGlyphs">PERCEPTIONS</text>
<text x="29.1" y="134.2" font-size="22.2" font-weight="bold" fill="#fff" stroke="#fff" stroke-width="1.0" stroke-linejoin="miter" textLength="96.0" lengthAdjust="spacingAndGlyphs">INDEX 2016</text>
<text x="28.8" y="149.8" font-size="7.6" fill="#e4e4e4" textLength="97.9" lengthAdjust="spacingAndGlyphs">The perceived levels of public sector</text>
<text x="28.8" y="158.6" font-size="7.6" fill="#e4e4e4" textLength="100.5" lengthAdjust="spacingAndGlyphs">corruption in 176 countries/territories</text>
<text x="28.8" y="167.6" font-size="7.6" fill="#e4e4e4" textLength="45.5" lengthAdjust="spacingAndGlyphs">around the world.</text>
<text x="42.2" y="204.7" font-size="5.9" font-weight="bold" fill="#1d1d1b" stroke="#1d1d1b" stroke-width="0.2" textLength="14.8" lengthAdjust="spacingAndGlyphs">SCORE</text>
</svg>
<div class="abs" style="left:41.3px;top:207.3px;width:126.5px;height:7px;background:linear-gradient(to right,#7a2226 0%,#8e2226 6%,#a82027 13%,#d4222b 20%,#e2352d 27%,#e6502a 33%,#ea6a25 40%,#ef8521 48%,#f39a1e 55%,#f8ae1a 63%,#fbbf12 71%,#fdcd08 79%,#fed900 87%,#ffe600 95%,#ffea00 100%)"></div>
<div class="abs" style="left:45.40px;top:213.2px;width:0;height:0;border-left:0.9px solid transparent;border-right:0.9px solid transparent;border-bottom:1.2px solid #fff"></div>
<div class="abs" style="left:58.33px;top:213.2px;width:0;height:0;border-left:0.9px solid transparent;border-right:0.9px solid transparent;border-bottom:1.2px solid #fff"></div>
<div class="abs" style="left:71.26px;top:213.2px;width:0;height:0;border-left:0.9px solid transparent;border-right:0.9px solid transparent;border-bottom:1.2px solid #fff"></div>
<div class="abs" style="left:84.19px;top:213.2px;width:0;height:0;border-left:0.9px solid transparent;border-right:0.9px solid transparent;border-bottom:1.2px solid #fff"></div>
<div class="abs" style="left:97.12px;top:213.2px;width:0;height:0;border-left:0.9px solid transparent;border-right:0.9px solid transparent;border-bottom:1.2px solid #fff"></div>
<div class="abs" style="left:110.05px;top:213.2px;width:0;height:0;border-left:0.9px solid transparent;border-right:0.9px solid transparent;border-bottom:1.2px solid #fff"></div>
<div class="abs" style="left:122.98px;top:213.2px;width:0;height:0;border-left:0.9px solid transparent;border-right:0.9px solid transparent;border-bottom:1.2px solid #fff"></div>
<div class="abs" style="left:135.91px;top:213.2px;width:0;height:0;border-left:0.9px solid transparent;border-right:0.9px solid transparent;border-bottom:1.2px solid #fff"></div>
<div class="abs" style="left:148.84px;top:213.2px;width:0;height:0;border-left:0.9px solid transparent;border-right:0.9px solid transparent;border-bottom:1.2px solid #fff"></div>
<div class="abs" style="left:161.77px;top:213.2px;width:0;height:0;border-left:0.9px solid transparent;border-right:0.9px solid transparent;border-bottom:1.2px solid #fff"></div>
<div class="lgl" style="left:46.3px">0-9</div>
<div class="lgl" style="left:59.7px">10-19</div>
<div class="lgl" style="left:72.0px">20-29</div>
<div class="lgl" style="left:84.7px">30-39</div>
<div class="lgl" style="left:97.2px">40-49</div>
<div class="lgl" style="left:110.0px">50-59</div>
<div class="lgl" style="left:123.8px">60-69</div>
<div class="lgl" style="left:136.2px">70-79</div>
<div class="lgl" style="left:148.7px">80-89</div>
<div class="lgl" style="left:162.7px">90-100</div>
<div class="abs" style="left:181.3px;top:207.3px;width:9.9px;height:7px;background:#e3e3e3"></div>
<div class="lgl" style="left:186.5px;color:#333;font-size:3.15px">No data</div>
<div class="lg" style="left:29.7px;top:207.7px;width:10.6px;text-align:right">Highly<br>Corrupt</div>
<div class="lg" style="left:169.4px;top:207.7px">Very<br>Clean</div>
<div class="th" style="left:28.50px;top:240.80px"><span class="thr">RANK</span><span class="thc">COUNTRY/TERRITORY</span><span class="ths">SCORE</span></div>
<div class="ln" style="left:38.50px;top:247.30px"></div>
<div class="rw" style="left:28.50px;top:247.500px;height:6.725px"><div class="rk dk" style="background:#ffe600">1</div><div class="nm">Denmark</div><div class="sc">90</div></div>
<div class="rw" style="left:28.50px;top:254.225px;height:6.725px"><div class="rk dk" style="background:#ffe600">1</div><div class="nm">New Zealand</div><div class="sc">90</div></div>
<div class="rw" style="left:28.50px;top:260.950px;height:6.725px"><div class="rk dk" style="background:#fdd000">3</div><div class="nm">Finland</div><div class="sc">89</div></div>
<div class="rw" style="left:28.50px;top:267.675px;height:6.725px"><div class="rk dk" style="background:#fdd000">4</div><div class="nm">Sweden</div><div class="sc">88</div></div>
<div class="rw" style="left:28.50px;top:274.400px;height:6.725px"><div class="rk dk" style="background:#fdd000">5</div><div class="nm">Switzerland</div><div class="sc">86</div></div>
<div class="rw" style="left:28.50px;top:281.125px;height:6.725px"><div class="rk dk" style="background:#fdd000">6</div><div class="nm">Norway</div><div class="sc">85</div></div>
<div class="rw" style="left:28.50px;top:287.850px;height:6.725px"><div class="rk dk" style="background:#fdd000">7</div><div class="nm">Singapore</div><div class="sc">84</div></div>
<div class="rw" style="left:28.50px;top:294.575px;height:6.725px"><div class="rk dk" style="background:#fdd000">8</div><div class="nm">Netherlands</div><div class="sc">83</div></div>
<div class="rw" style="left:28.50px;top:301.300px;height:6.725px"><div class="rk dk" style="background:#fdd000">9</div><div class="nm">Canada</div><div class="sc">82</div></div>
<div class="rw" style="left:28.50px;top:308.025px;height:6.725px"><div class="rk dk" style="background:#fdd000">10</div><div class="nm">Germany</div><div class="sc">81</div></div>
<div class="rw" style="left:28.50px;top:314.750px;height:6.725px"><div class="rk dk" style="background:#fdd000">10</div><div class="nm">Luxembourg</div><div class="sc">81</div></div>
<div class="rw" style="left:28.50px;top:321.475px;height:6.725px"><div class="rk dk" style="background:#fdd000">10</div><div class="nm">United Kingdom</div><div class="sc">81</div></div>
<div class="rw" style="left:28.50px;top:328.200px;height:6.725px"><div class="rk dk" style="background:#fbb616">13</div><div class="nm">Australia</div><div class="sc">79</div></div>
<div class="rw" style="left:28.50px;top:334.925px;height:6.725px"><div class="rk dk" style="background:#fbb616">14</div><div class="nm">Iceland</div><div class="sc">78</div></div>
<div class="rw" style="left:28.50px;top:341.650px;height:6.725px"><div class="rk dk" style="background:#fbb616">15</div><div class="nm">Belgium</div><div class="sc">77</div></div>
<div class="rw" style="left:28.50px;top:348.375px;height:6.725px"><div class="rk dk" style="background:#fbb616">15</div><div class="nm">Hong Kong</div><div class="sc">77</div></div>
<div class="rw" style="left:28.50px;top:355.100px;height:6.725px"><div class="rk dk" style="background:#fbb616">17</div><div class="nm">Austria</div><div class="sc">75</div></div>
<div class="rw" style="left:28.50px;top:361.825px;height:6.725px"><div class="rk dk" style="background:#fbb616">18</div><div class="nm">United States</div><div class="sc">74</div></div>
<div class="rw" style="left:28.50px;top:368.550px;height:6.725px"><div class="rk dk" style="background:#fbb616">19</div><div class="nm">Ireland</div><div class="sc">73</div></div>
<div class="rw" style="left:28.50px;top:375.275px;height:6.725px"><div class="rk dk" style="background:#fbb616">20</div><div class="nm">Japan</div><div class="sc">72</div></div>
<div class="ln" style="left:99.10px;top:241.15px"></div>
<div class="rw" style="left:89.10px;top:241.350px;height:6.725px"><div class="rk dk" style="background:#fbb616">21</div><div class="nm">Uruguay</div><div class="sc">71</div></div>
<div class="rw" style="left:89.10px;top:248.075px;height:6.725px"><div class="rk dk" style="background:#fbb616">22</div><div class="nm">Estonia</div><div class="sc">70</div></div>
<div class="rw" style="left:89.10px;top:254.800px;height:6.725px"><div class="rk" style="background:#f59e1e">23</div><div class="nm">France</div><div class="sc">69</div></div>
<div class="rw" style="left:89.10px;top:261.525px;height:6.725px"><div class="rk" style="background:#f59e1e">24</div><div class="nm">Bahamas</div><div class="sc">66</div></div>
<div class="rw" style="left:89.10px;top:268.250px;height:6.725px"><div class="rk" style="background:#f59e1e">24</div><div class="nm">Chile</div><div class="sc">66</div></div>
<div class="rw" style="left:89.10px;top:274.975px;height:10.000px"><div class="rk" style="background:#f59e1e">24</div><div class="nm">United Arab<br>Emirates</div><div class="sc">66</div></div>
<div class="rw" style="left:89.10px;top:284.975px;height:6.725px"><div class="rk" style="background:#f59e1e">27</div><div class="nm">Bhutan</div><div class="sc">65</div></div>
<div class="rw" style="left:89.10px;top:291.700px;height:6.725px"><div class="rk" style="background:#f59e1e">28</div><div class="nm">Israel</div><div class="sc">64</div></div>
<div class="rw" style="left:89.10px;top:298.425px;height:6.725px"><div class="rk" style="background:#f59e1e">29</div><div class="nm">Poland</div><div class="sc">62</div></div>
<div class="rw" style="left:89.10px;top:305.150px;height:6.725px"><div class="rk" style="background:#f59e1e">29</div><div class="nm">Portugal</div><div class="sc">62</div></div>
<div class="rw" style="left:89.10px;top:311.875px;height:6.725px"><div class="rk" style="background:#f59e1e">31</div><div class="nm">Barbados</div><div class="sc">61</div></div>
<div class="rw" style="left:89.10px;top:318.600px;height:6.725px"><div class="rk" style="background:#f59e1e">31</div><div class="nm">Qatar</div><div class="sc">61</div></div>
<div class="rw" style="left:89.10px;top:325.325px;height:6.725px"><div class="rk" style="background:#f59e1e">31</div><div class="nm">Slovenia</div><div class="sc">61</div></div>
<div class="rw" style="left:89.10px;top:332.050px;height:6.725px"><div class="rk" style="background:#f59e1e">31</div><div class="nm">Taiwan</div><div class="sc">61</div></div>
<div class="rw" style="left:89.10px;top:338.775px;height:6.725px"><div class="rk" style="background:#f59e1e">35</div><div class="nm">Botswana</div><div class="sc">60</div></div>
<div class="rw" style="left:89.10px;top:345.500px;height:6.725px"><div class="rk" style="background:#f59e1e">35</div><div class="nm">Saint Lucia</div><div class="sc">60</div></div>
<div class="rw" style="left:89.10px;top:352.225px;height:10.000px"><div class="rk" style="background:#f59e1e">35</div><div class="nm">Saint Vincent and<br>The Grenadines</div><div class="sc">60</div></div>
<div class="rw" style="left:89.10px;top:362.225px;height:6.725px"><div class="rk" style="background:#ee7d22">38</div><div class="nm">Cape Verde</div><div class="sc">59</div></div>
<div class="rw" style="left:89.10px;top:368.950px;height:6.725px"><div class="rk" style="background:#ee7d22">38</div><div class="nm">Dominica</div><div class="sc">59</div></div>
<div class="rw" style="left:89.10px;top:375.675px;height:6.725px"><div class="rk" style="background:#ee7d22">38</div><div class="nm">Lithuania</div><div class="sc">59</div></div>
<div class="th" style="left:150.25px;top:240.80px"><span class="thr">RANK</span><span class="thc">COUNTRY/TERRITORY</span><span class="ths">SCORE</span></div>
<div class="ln" style="left:160.25px;top:247.30px"></div>
<div class="rw" style="left:150.25px;top:247.500px;height:6.725px"><div class="rk" style="background:#ee7d22">41</div><div class="nm">Brunei</div><div class="sc">58</div></div>
<div class="rw" style="left:150.25px;top:254.225px;height:6.725px"><div class="rk" style="background:#ee7d22">41</div><div class="nm">Costa Rica</div><div class="sc">58</div></div>
<div class="rw" style="left:150.25px;top:260.950px;height:6.725px"><div class="rk" style="background:#ee7d22">41</div><div class="nm">Spain</div><div class="sc">58</div></div>
<div class="rw" style="left:150.25px;top:267.675px;height:6.725px"><div class="rk" style="background:#ee7d22">44</div><div class="nm">Georgia</div><div class="sc">57</div></div>
<div class="rw" style="left:150.25px;top:274.400px;height:6.725px"><div class="rk" style="background:#ee7d22">44</div><div class="nm">Latvia</div><div class="sc">57</div></div>
<div class="rw" style="left:150.25px;top:281.125px;height:6.725px"><div class="rk" style="background:#ee7d22">46</div><div class="nm">Grenada</div><div class="sc">56</div></div>
<div class="rw" style="left:150.25px;top:287.850px;height:6.725px"><div class="rk" style="background:#ee7d22">47</div><div class="nm">Cyprus</div><div class="sc">55</div></div>
<div class="rw" style="left:150.25px;top:294.575px;height:6.725px"><div class="rk" style="background:#ee7d22">47</div><div class="nm">Czech Republic</div><div class="sc">55</div></div>
<div class="rw" style="left:150.25px;top:301.300px;height:6.725px"><div class="rk" style="background:#ee7d22">47</div><div class="nm">Malta</div><div class="sc">55</div></div>
<div class="rw" style="left:150.25px;top:308.025px;height:6.725px"><div class="rk" style="background:#ee7d22">50</div><div class="nm">Mauritius</div><div class="sc">54</div></div>
<div class="rw" style="left:150.25px;top:314.750px;height:6.725px"><div class="rk" style="background:#ee7d22">50</div><div class="nm">Rwanda</div><div class="sc">54</div></div>
<div class="rw" style="left:150.25px;top:321.475px;height:6.725px"><div class="rk" style="background:#ee7d22">52</div><div class="nm">Korea (South)</div><div class="sc">53</div></div>
<div class="rw" style="left:150.25px;top:328.200px;height:6.725px"><div class="rk" style="background:#ee7d22">53</div><div class="nm">Namibia</div><div class="sc">52</div></div>
<div class="rw" style="left:150.25px;top:334.925px;height:6.725px"><div class="rk" style="background:#ee7d22">54</div><div class="nm">Slovakia</div><div class="sc">51</div></div>
<div class="rw" style="left:150.25px;top:341.650px;height:6.725px"><div class="rk" style="background:#e96523">55</div><div class="nm">Croatia</div><div class="sc">49</div></div>
<div class="rw" style="left:150.25px;top:348.375px;height:6.725px"><div class="rk" style="background:#e96523">55</div><div class="nm">Malaysia</div><div class="sc">49</div></div>
<div class="rw" style="left:150.25px;top:355.100px;height:6.725px"><div class="rk" style="background:#e96523">57</div><div class="nm">Hungary</div><div class="sc">48</div></div>
<div class="rw" style="left:150.25px;top:361.825px;height:6.725px"><div class="rk" style="background:#e96523">57</div><div class="nm">Jordan</div><div class="sc">48</div></div>
<div class="rw" style="left:150.25px;top:368.550px;height:6.725px"><div class="rk" style="background:#e96523">57</div><div class="nm">Romania</div><div class="sc">48</div></div>
<div class="rw" style="left:150.25px;top:375.275px;height:6.725px"><div class="rk" style="background:#e96523">60</div><div class="nm">Cuba</div><div class="sc">47</div></div>
<div class="ln" style="left:220.85px;top:241.15px"></div>
<div class="rw" style="left:210.85px;top:241.350px;height:6.725px"><div class="rk" style="background:#e96523">60</div><div class="nm">Italy</div><div class="sc">47</div></div>
<div class="rw" style="left:210.85px;top:248.075px;height:10.000px"><div class="rk" style="background:#e96523">62</div><div class="nm">Sao Tome<br>and Principe</div><div class="sc">46</div></div>
<div class="rw" style="left:210.85px;top:258.075px;height:6.725px"><div class="rk" style="background:#e96523">62</div><div class="nm">Saudi Arabia</div><div class="sc">46</div></div>
<div class="rw" style="left:210.85px;top:264.800px;height:6.725px"><div class="rk" style="background:#e96523">64</div><div class="nm">Montenegro</div><div class="sc">45</div></div>
<div class="rw" style="left:210.85px;top:271.525px;height:6.725px"><div class="rk" style="background:#e96523">64</div><div class="nm">Oman</div><div class="sc">45</div></div>
<div class="rw" style="left:210.85px;top:278.250px;height:6.725px"><div class="rk" style="background:#e96523">64</div><div class="nm">Senegal</div><div class="sc">45</div></div>
<div class="rw" style="left:210.85px;top:284.975px;height:6.725px"><div class="rk" style="background:#e96523">64</div><div class="nm">South Africa</div><div class="sc">45</div></div>
<div class="rw" style="left:210.85px;top:291.700px;height:6.725px"><div class="rk" style="background:#e96523">64</div><div class="nm">Suriname</div><div class="sc">45</div></div>
<div class="rw" style="left:210.85px;top:298.425px;height:6.725px"><div class="rk" style="background:#e96523">69</div><div class="nm">Greece</div><div class="sc">44</div></div>
<div class="rw" style="left:210.85px;top:305.150px;height:6.725px"><div class="rk" style="background:#e96523">70</div><div class="nm">Bahrain</div><div class="sc">43</div></div>
<div class="rw" style="left:210.85px;top:311.875px;height:6.725px"><div class="rk" style="background:#e96523">70</div><div class="nm">Ghana</div><div class="sc">43</div></div>
<div class="rw" style="left:210.85px;top:318.600px;height:6.725px"><div class="rk" style="background:#e96523">72</div><div class="nm">Burkina Faso</div><div class="sc">42</div></div>
<div class="rw" style="left:210.85px;top:325.325px;height:6.725px"><div class="rk" style="background:#e96523">72</div><div class="nm">Serbia</div><div class="sc">42</div></div>
<div class="rw" style="left:210.85px;top:332.050px;height:6.725px"><div class="rk" style="background:#e96523">72</div><div class="nm">Solomon Islands</div><div class="sc">42</div></div>
<div class="rw" style="left:210.85px;top:338.775px;height:6.725px"><div class="rk" style="background:#e96523">75</div><div class="nm">Bulgaria</div><div class="sc">41</div></div>
<div class="rw" style="left:210.85px;top:345.500px;height:6.725px"><div class="rk" style="background:#e96523">75</div><div class="nm">Kuwait</div><div class="sc">41</div></div>
<div class="rw" style="left:210.85px;top:352.225px;height:6.725px"><div class="rk" style="background:#e96523">75</div><div class="nm">Tunisia</div><div class="sc">41</div></div>
<div class="rw" style="left:210.85px;top:358.950px;height:6.725px"><div class="rk" style="background:#e96523">75</div><div class="nm">Turkey</div><div class="sc">41</div></div>
<div class="rw" style="left:210.85px;top:365.675px;height:6.725px"><div class="rk" style="background:#e96523">79</div><div class="nm">Belarus</div><div class="sc">40</div></div>
<div class="rw" style="left:210.85px;top:372.400px;height:6.725px"><div class="rk" style="background:#e96523">79</div><div class="nm">Brazil</div><div class="sc">40</div></div>
<div class="th" style="left:272.00px;top:240.80px"><span class="thr">RANK</span><span class="thc">COUNTRY/TERRITORY</span><span class="ths">SCORE</span></div>
<div class="ln" style="left:282.00px;top:247.30px"></div>
<div class="rw" style="left:272.00px;top:247.500px;height:6.725px"><div class="rk" style="background:#e96523">79</div><div class="nm">China</div><div class="sc">40</div></div>
<div class="rw" style="left:272.00px;top:254.225px;height:6.725px"><div class="rk" style="background:#e96523">79</div><div class="nm">India</div><div class="sc">40</div></div>
<div class="rw" style="left:272.00px;top:260.950px;height:6.725px"><div class="rk" style="background:#e5432e">83</div><div class="nm">Albania</div><div class="sc">39</div></div>
<div class="rw" style="left:272.00px;top:267.675px;height:10.000px"><div class="rk" style="background:#e5432e">83</div><div class="nm">Bosnia and<br>Herzegovina</div><div class="sc">39</div></div>
<div class="rw" style="left:272.00px;top:277.675px;height:6.725px"><div class="rk" style="background:#e5432e">83</div><div class="nm">Jamaica</div><div class="sc">39</div></div>
<div class="rw" style="left:272.00px;top:284.400px;height:6.725px"><div class="rk" style="background:#e5432e">83</div><div class="nm">Lesotho</div><div class="sc">39</div></div>
<div class="rw" style="left:272.00px;top:291.125px;height:6.725px"><div class="rk" style="background:#e5432e">87</div><div class="nm">Mongolia</div><div class="sc">38</div></div>
<div class="rw" style="left:272.00px;top:297.850px;height:6.725px"><div class="rk" style="background:#e5432e">87</div><div class="nm">Panama</div><div class="sc">38</div></div>
<div class="rw" style="left:272.00px;top:304.575px;height:6.725px"><div class="rk" style="background:#e5432e">87</div><div class="nm">Zambia</div><div class="sc">38</div></div>
<div class="rw" style="left:272.00px;top:311.300px;height:6.725px"><div class="rk" style="background:#e5432e">90</div><div class="nm">Colombia</div><div class="sc">37</div></div>
<div class="rw" style="left:272.00px;top:318.025px;height:6.725px"><div class="rk" style="background:#e5432e">90</div><div class="nm">Indonesia</div><div class="sc">37</div></div>
<div class="rw" style="left:272.00px;top:324.750px;height:6.725px"><div class="rk" style="background:#e5432e">90</div><div class="nm">Liberia</div><div class="sc">37</div></div>
<div class="rw" style="left:272.00px;top:331.475px;height:6.725px"><div class="rk" style="background:#e5432e">90</div><div class="nm">Morocco</div><div class="sc">37</div></div>
<div class="rw" style="left:272.00px;top:338.200px;height:10.000px"><div class="rk" style="background:#e5432e">90</div><div class="nm">The FYR of<br>Macedonia</div><div class="sc">37</div></div>
<div class="rw" style="left:272.00px;top:348.200px;height:6.725px"><div class="rk" style="background:#e5432e">95</div><div class="nm">Argentina</div><div class="sc">36</div></div>
<div class="rw" style="left:272.00px;top:354.925px;height:6.725px"><div class="rk" style="background:#e5432e">95</div><div class="nm">Benin</div><div class="sc">36</div></div>
<div class="rw" style="left:272.00px;top:361.650px;height:6.725px"><div class="rk" style="background:#e5432e">95</div><div class="nm">El Salvador</div><div class="sc">36</div></div>
<div class="rw" style="left:272.00px;top:368.375px;height:6.725px"><div class="rk" style="background:#e5432e">95</div><div class="nm">Kosovo</div><div class="sc">36</div></div>
<div class="rw" style="left:272.00px;top:375.100px;height:6.725px"><div class="rk" style="background:#e5432e">95</div><div class="nm">Maldives</div><div class="sc">36</div></div>
<div class="ln" style="left:342.60px;top:241.15px"></div>
<div class="rw" style="left:332.60px;top:241.350px;height:6.725px"><div class="rk" style="background:#e5432e">95</div><div class="nm">Sri Lanka</div><div class="sc">36</div></div>
<div class="rw" style="left:332.60px;top:248.075px;height:6.725px"><div class="rk" style="background:#e5432e">101</div><div class="nm">Gabon</div><div class="sc">35</div></div>
<div class="rw" style="left:332.60px;top:254.800px;height:6.725px"><div class="rk" style="background:#e5432e">101</div><div class="nm">Niger</div><div class="sc">35</div></div>
<div class="rw" style="left:332.60px;top:261.525px;height:6.725px"><div class="rk" style="background:#e5432e">101</div><div class="nm">Peru</div><div class="sc">35</div></div>
<div class="rw" style="left:332.60px;top:268.250px;height:6.725px"><div class="rk" style="background:#e5432e">101</div><div class="nm">Philippines</div><div class="sc">35</div></div>
<div class="rw" style="left:332.60px;top:274.975px;height:6.725px"><div class="rk" style="background:#e5432e">101</div><div class="nm">Thailand</div><div class="sc">35</div></div>
<div class="rw" style="left:332.60px;top:281.700px;height:6.725px"><div class="rk" style="background:#e5432e">101</div><div class="nm">Timor-Leste</div><div class="sc">35</div></div>
<div class="rw" style="left:332.60px;top:288.425px;height:10.000px"><div class="rk" style="background:#e5432e">101</div><div class="nm">Trinidad<br>and Tobago</div><div class="sc">35</div></div>
<div class="rw" style="left:332.60px;top:298.425px;height:6.725px"><div class="rk" style="background:#e5432e">108</div><div class="nm">Algeria</div><div class="sc">34</div></div>
<div class="rw" style="left:332.60px;top:305.150px;height:6.725px"><div class="rk" style="background:#e5432e">108</div><div class="nm">Côte d´Ivoire</div><div class="sc">34</div></div>
<div class="rw" style="left:332.60px;top:311.875px;height:6.725px"><div class="rk" style="background:#e5432e">108</div><div class="nm">Egypt</div><div class="sc">34</div></div>
<div class="rw" style="left:332.60px;top:318.600px;height:6.725px"><div class="rk" style="background:#e5432e">108</div><div class="nm">Ethiopia</div><div class="sc">34</div></div>
<div class="rw" style="left:332.60px;top:325.325px;height:6.725px"><div class="rk" style="background:#e5432e">108</div><div class="nm">Guyana</div><div class="sc">34</div></div>
<div class="rw" style="left:332.60px;top:332.050px;height:6.725px"><div class="rk" style="background:#e5432e">113</div><div class="nm">Armenia</div><div class="sc">33</div></div>
<div class="rw" style="left:332.60px;top:338.775px;height:6.725px"><div class="rk" style="background:#e5432e">113</div><div class="nm">Bolivia</div><div class="sc">33</div></div>
<div class="rw" style="left:332.60px;top:345.500px;height:6.725px"><div class="rk" style="background:#e5432e">113</div><div class="nm">Vietnam</div><div class="sc">33</div></div>
<div class="rw" style="left:332.60px;top:352.225px;height:6.725px"><div class="rk" style="background:#e5432e">116</div><div class="nm">Mali</div><div class="sc">32</div></div>
<div class="rw" style="left:332.60px;top:358.950px;height:6.725px"><div class="rk" style="background:#e5432e">116</div><div class="nm">Pakistan</div><div class="sc">32</div></div>
<div class="rw" style="left:332.60px;top:365.675px;height:6.725px"><div class="rk" style="background:#e5432e">116</div><div class="nm">Tanzania</div><div class="sc">32</div></div>
<div class="rw" style="left:332.60px;top:372.400px;height:6.725px"><div class="rk" style="background:#e5432e">116</div><div class="nm">Togo</div><div class="sc">32</div></div>
<div class="th" style="left:393.60px;top:240.80px"><span class="thr">RANK</span><span class="thc">COUNTRY/TERRITORY</span><span class="ths">SCORE</span></div>
<div class="ln" style="left:403.60px;top:247.30px"></div>
<div class="rw" style="left:393.60px;top:247.500px;height:10.000px"><div class="rk" style="background:#e5432e">120</div><div class="nm">Dominican<br>Republic</div><div class="sc">31</div></div>
<div class="rw" style="left:393.60px;top:257.500px;height:6.725px"><div class="rk" style="background:#e5432e">120</div><div class="nm">Ecuador</div><div class="sc">31</div></div>
<div class="rw" style="left:393.60px;top:264.225px;height:6.725px"><div class="rk" style="background:#e5432e">120</div><div class="nm">Malawi</div><div class="sc">31</div></div>
<div class="rw" style="left:393.60px;top:270.950px;height:6.725px"><div class="rk" style="background:#e5432e">123</div><div class="nm">Azerbaijan</div><div class="sc">30</div></div>
<div class="rw" style="left:393.60px;top:277.675px;height:6.725px"><div class="rk" style="background:#e5432e">123</div><div class="nm">Djibouti</div><div class="sc">30</div></div>
<div class="rw" style="left:393.60px;top:284.400px;height:6.725px"><div class="rk" style="background:#e5432e">123</div><div class="nm">Honduras</div><div class="sc">30</div></div>
<div class="rw" style="left:393.60px;top:291.125px;height:6.725px"><div class="rk" style="background:#e5432e">123</div><div class="nm">Laos</div><div class="sc">30</div></div>
<div class="rw" style="left:393.60px;top:297.850px;height:6.725px"><div class="rk" style="background:#e5432e">123</div><div class="nm">Mexico</div><div class="sc">30</div></div>
<div class="rw" style="left:393.60px;top:304.575px;height:6.725px"><div class="rk" style="background:#e5432e">123</div><div class="nm">Moldova</div><div class="sc">30</div></div>
<div class="rw" style="left:393.60px;top:311.300px;height:6.725px"><div class="rk" style="background:#e5432e">123</div><div class="nm">Paraguay</div><div class="sc">30</div></div>
<div class="rw" style="left:393.60px;top:318.025px;height:6.725px"><div class="rk" style="background:#e5432e">123</div><div class="nm">Sierra Leone</div><div class="sc">30</div></div>
<div class="rw" style="left:393.60px;top:324.750px;height:6.725px"><div class="rk" style="background:#de2632">131</div><div class="nm">Iran</div><div class="sc">29</div></div>
<div class="rw" style="left:393.60px;top:331.475px;height:6.725px"><div class="rk" style="background:#de2632">131</div><div class="nm">Kazakhstan</div><div class="sc">29</div></div>
<div class="rw" style="left:393.60px;top:338.200px;height:6.725px"><div class="rk" style="background:#de2632">131</div><div class="nm">Nepal</div><div class="sc">29</div></div>
<div class="rw" style="left:393.60px;top:344.925px;height:6.725px"><div class="rk" style="background:#de2632">131</div><div class="nm">Russia</div><div class="sc">29</div></div>
<div class="rw" style="left:393.60px;top:351.650px;height:6.725px"><div class="rk" style="background:#de2632">131</div><div class="nm">Ukraine</div><div class="sc">29</div></div>
<div class="rw" style="left:393.60px;top:358.375px;height:6.725px"><div class="rk" style="background:#de2632">136</div><div class="nm">Guatemala</div><div class="sc">28</div></div>
<div class="rw" style="left:393.60px;top:365.100px;height:6.725px"><div class="rk" style="background:#de2632">136</div><div class="nm">Kyrgyzstan</div><div class="sc">28</div></div>
<div class="rw" style="left:393.60px;top:371.825px;height:6.725px"><div class="rk" style="background:#de2632">136</div><div class="nm">Lebanon</div><div class="sc">28</div></div>
<div class="ln" style="left:464.20px;top:241.15px"></div>
<div class="rw" style="left:454.20px;top:241.350px;height:6.725px"><div class="rk" style="background:#de2632">136</div><div class="nm">Myanmar</div><div class="sc">28</div></div>
<div class="rw" style="left:454.20px;top:248.075px;height:6.725px"><div class="rk" style="background:#de2632">136</div><div class="nm">Nigeria</div><div class="sc">28</div></div>
<div class="rw" style="left:454.20px;top:254.800px;height:10.000px"><div class="rk" style="background:#de2632">136</div><div class="nm">Papua New<br>Guinea</div><div class="sc">28</div></div>
<div class="rw" style="left:454.20px;top:264.800px;height:6.725px"><div class="rk" style="background:#de2632">142</div><div class="nm">Guinea</div><div class="sc">27</div></div>
<div class="rw" style="left:454.20px;top:271.525px;height:6.725px"><div class="rk" style="background:#de2632">142</div><div class="nm">Mauritania</div><div class="sc">27</div></div>
<div class="rw" style="left:454.20px;top:278.250px;height:6.725px"><div class="rk" style="background:#de2632">142</div><div class="nm">Mozambique</div><div class="sc">27</div></div>
<div class="rw" style="left:454.20px;top:284.975px;height:6.725px"><div class="rk" style="background:#de2632">145</div><div class="nm">Bangladesh</div><div class="sc">26</div></div>
<div class="rw" style="left:454.20px;top:291.700px;height:6.725px"><div class="rk" style="background:#de2632">145</div><div class="nm">Cameroon</div><div class="sc">26</div></div>
<div class="rw" style="left:454.20px;top:298.425px;height:6.725px"><div class="rk" style="background:#de2632">145</div><div class="nm">Gambia</div><div class="sc">26</div></div>
<div class="rw" style="left:454.20px;top:305.150px;height:6.725px"><div class="rk" style="background:#de2632">145</div><div class="nm">Kenya</div><div class="sc">26</div></div>
<div class="rw" style="left:454.20px;top:311.875px;height:6.725px"><div class="rk" style="background:#de2632">145</div><div class="nm">Madagascar</div><div class="sc">26</div></div>
<div class="rw" style="left:454.20px;top:318.600px;height:6.725px"><div class="rk" style="background:#de2632">145</div><div class="nm">Nicaragua</div><div class="sc">26</div></div>
<div class="rw" style="left:454.20px;top:325.325px;height:6.725px"><div class="rk" style="background:#de2632">151</div><div class="nm">Tajikistan</div><div class="sc">25</div></div>
<div class="rw" style="left:454.20px;top:332.050px;height:6.725px"><div class="rk" style="background:#de2632">151</div><div class="nm">Uganda</div><div class="sc">25</div></div>
<div class="rw" style="left:454.20px;top:338.775px;height:6.725px"><div class="rk" style="background:#de2632">153</div><div class="nm">Comoros</div><div class="sc">24</div></div>
<div class="rw" style="left:454.20px;top:345.500px;height:6.725px"><div class="rk" style="background:#de2632">154</div><div class="nm">Turkmenistan</div><div class="sc">22</div></div>
<div class="rw" style="left:454.20px;top:352.225px;height:6.725px"><div class="rk" style="background:#de2632">154</div><div class="nm">Zimbabwe</div><div class="sc">22</div></div>
<div class="rw" style="left:454.20px;top:358.950px;height:6.725px"><div class="rk" style="background:#de2632">156</div><div class="nm">Cambodia</div><div class="sc">21</div></div>
<div class="rw" style="left:454.20px;top:365.675px;height:10.000px"><div class="rk" style="background:#de2632">156</div><div class="nm">Democratic<br>Republic of Congo</div><div class="sc">21</div></div>
<div class="rw" style="left:454.20px;top:375.675px;height:6.725px"><div class="rk" style="background:#de2632">156</div><div class="nm">Uzbekistan</div><div class="sc">21</div></div>
<div class="th" style="left:515.40px;top:240.80px"><span class="thr">RANK</span><span class="thc">COUNTRY/TERRITORY</span><span class="ths">SCORE</span></div>
<div class="ln" style="left:525.40px;top:247.30px"></div>
<div class="rw" style="left:515.40px;top:247.500px;height:6.725px"><div class="rk" style="background:#de2632">159</div><div class="nm">Burundi</div><div class="sc">20</div></div>
<div class="rw" style="left:515.40px;top:254.225px;height:10.000px"><div class="rk" style="background:#de2632">159</div><div class="nm">Central African<br>Republic</div><div class="sc">20</div></div>
<div class="rw" style="left:515.40px;top:264.225px;height:6.725px"><div class="rk" style="background:#de2632">159</div><div class="nm">Chad</div><div class="sc">20</div></div>
<div class="rw" style="left:515.40px;top:270.950px;height:6.725px"><div class="rk" style="background:#de2632">159</div><div class="nm">Haiti</div><div class="sc">20</div></div>
<div class="rw" style="left:515.40px;top:277.675px;height:6.725px"><div class="rk" style="background:#de2632">159</div><div class="nm">Republic of Congo</div><div class="sc">20</div></div>
<div class="rw" style="left:515.40px;top:284.400px;height:6.725px"><div class="rk" style="background:#a02028">164</div><div class="nm">Angola</div><div class="sc">18</div></div>
<div class="rw" style="left:515.40px;top:291.125px;height:6.725px"><div class="rk" style="background:#a02028">164</div><div class="nm">Eritrea</div><div class="sc">18</div></div>
<div class="rw" style="left:515.40px;top:297.850px;height:6.725px"><div class="rk" style="background:#a02028">166</div><div class="nm">Iraq</div><div class="sc">17</div></div>
<div class="rw" style="left:515.40px;top:304.575px;height:6.725px"><div class="rk" style="background:#a02028">166</div><div class="nm">Venezuela</div><div class="sc">17</div></div>
<div class="rw" style="left:515.40px;top:311.300px;height:6.725px"><div class="rk" style="background:#a02028">168</div><div class="nm">Guinea-Bissau</div><div class="sc">16</div></div>
<div class="rw" style="left:515.40px;top:318.025px;height:6.725px"><div class="rk" style="background:#a02028">169</div><div class="nm">Afghanistan</div><div class="sc">15</div></div>
<div class="rw" style="left:515.40px;top:324.750px;height:6.725px"><div class="rk" style="background:#a02028">170</div><div class="nm">Libya</div><div class="sc">14</div></div>
<div class="rw" style="left:515.40px;top:331.475px;height:6.725px"><div class="rk" style="background:#a02028">170</div><div class="nm">Sudan</div><div class="sc">14</div></div>
<div class="rw" style="left:515.40px;top:338.200px;height:6.725px"><div class="rk" style="background:#a02028">170</div><div class="nm">Yemen</div><div class="sc">14</div></div>
<div class="rw" style="left:515.40px;top:344.925px;height:6.725px"><div class="rk" style="background:#a02028">173</div><div class="nm">Syria</div><div class="sc">13</div></div>
<div class="rw" style="left:515.40px;top:351.650px;height:6.725px"><div class="rk" style="background:#a02028">174</div><div class="nm">Korea (North)</div><div class="sc">12</div></div>
<div class="rw" style="left:515.40px;top:358.375px;height:6.725px"><div class="rk" style="background:#a02028">175</div><div class="nm">South Sudan</div><div class="sc">11</div></div>
<div class="rw" style="left:515.40px;top:365.100px;height:6.725px"><div class="rk" style="background:#a02028">176</div><div class="nm">Somalia</div><div class="sc">10</div></div>
<div class="abs" style="left:28.4px;top:402.5px;font-size:3.66px;line-height:4px;color:#7a7a7a;white-space:nowrap;">This work from Transparency International, 2017 is licensed under CC BY-ND 4.0</div>
<svg width="600" height="424" viewBox="0 0 600 424">
<circle cx="162.5" cy="404.4" r="1.85" fill="#fff" stroke="#3c3c3c" stroke-width="0.75"/>
<rect x="161.45" y="403.84999999999997" width="0.8" height="1.1" fill="#3c3c3c"/><rect x="162.7" y="403.84999999999997" width="0.8" height="1.1" fill="#3c3c3c"/>
<circle cx="168.6" cy="404.4" r="1.85" fill="#fff" stroke="#3c3c3c" stroke-width="0.75"/>
<circle cx="168.6" cy="403.65" r="0.38" fill="#3c3c3c"/><rect x="168.1" y="404.09999999999997" width="1.0" height="1.3" fill="#3c3c3c"/>
<circle cx="174.4" cy="404.4" r="1.85" fill="#fff" stroke="#3c3c3c" stroke-width="0.75"/>
<rect x="173.55" y="403.75" width="1.7" height="0.45" fill="#3c3c3c"/><rect x="173.55" y="404.59999999999997" width="1.7" height="0.45" fill="#3c3c3c"/>
</svg>
<div class="abs" style="right:27.5px;top:388.5px;font-size:6.9px;line-height:9px;color:#3f9bd0;white-space:nowrap;text-align:right">#cpi2016</div>
<div class="abs" style="right:27.5px;top:398.7px;font-size:7.15px;line-height:9px;color:#1d1d1b;white-space:nowrap;text-align:right;-webkit-text-stroke:0.25px #1d1d1b">www.transparency.org/cpi</div>
</div></body></html>
